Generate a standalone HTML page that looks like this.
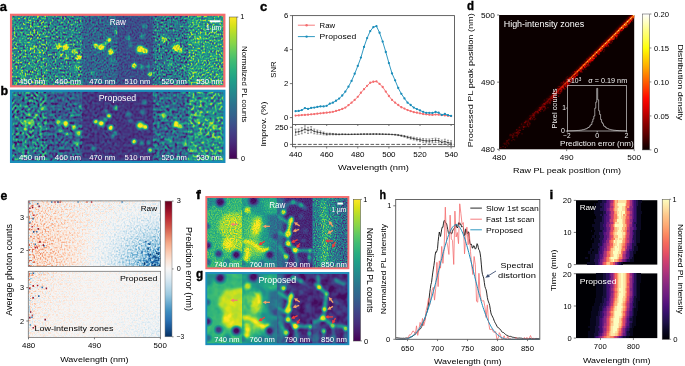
<!DOCTYPE html>
<html><head><meta charset="utf-8"><title>Figure</title>
<style>
html,body{margin:0;padding:0;background:#fff;}
svg{display:block;}
text{font-family:"Liberation Sans",sans-serif;}
</style></head><body>
<svg width="685" height="366" viewBox="0 0 685 366">
<defs>
<radialGradient id="gb"><stop offset="0" stop-color="#ff4000" stop-opacity="1"/><stop offset="0.15" stop-color="#ff4000" stop-opacity="1"/><stop offset="0.3" stop-color="#ff4000" stop-opacity="1"/><stop offset="0.45" stop-color="#ff4000" stop-opacity="0.86"/><stop offset="0.6" stop-color="#ff4000" stop-opacity="0.53"/><stop offset="0.75" stop-color="#ff4000" stop-opacity="0.27"/><stop offset="0.9" stop-color="#ff4000" stop-opacity="0.08"/><stop offset="1" stop-color="#ff4000" stop-opacity="0"/></radialGradient>
<radialGradient id="gbs"><stop offset="0" stop-color="#ff1a00" stop-opacity="1"/><stop offset="0.15" stop-color="#ff1a00" stop-opacity="1"/><stop offset="0.3" stop-color="#ff1a00" stop-opacity="0.98"/><stop offset="0.45" stop-color="#ff1a00" stop-opacity="0.71"/><stop offset="0.6" stop-color="#ff1a00" stop-opacity="0.45"/><stop offset="0.75" stop-color="#ff1a00" stop-opacity="0.22"/><stop offset="0.9" stop-color="#ff1a00" stop-opacity="0.07"/><stop offset="1" stop-color="#ff1a00" stop-opacity="0"/></radialGradient>
<radialGradient id="gd"><stop offset="0" stop-color="#0d0d00" stop-opacity="1"/><stop offset="0.15" stop-color="#0d0d00" stop-opacity="0.94"/><stop offset="0.3" stop-color="#0d0d00" stop-opacity="0.78"/><stop offset="0.45" stop-color="#0d0d00" stop-opacity="0.57"/><stop offset="0.6" stop-color="#0d0d00" stop-opacity="0.36"/><stop offset="0.75" stop-color="#0d0d00" stop-opacity="0.18"/><stop offset="0.9" stop-color="#0d0d00" stop-opacity="0.06"/><stop offset="1" stop-color="#0d0d00" stop-opacity="0"/></radialGradient>
<filter id="fa" filterUnits="userSpaceOnUse" x="11" y="15" width="213" height="71" color-interpolation-filters="sRGB"><feTurbulence type="fractalNoise" baseFrequency="0.56 0.5" numOctaves="1" seed="7" result="t"/><feColorMatrix in="t" type="matrix" values="1.43 1.43 1.43 0 -1.65 1.43 1.43 1.43 0 -1.65 1.43 1.43 1.43 0 -1.65 0 0 0 0 1" result="n"/><feColorMatrix in="SourceGraphic" type="matrix" values="1 0 0 0 0 1 0 0 0 0 1 0 0 0 0 0 0 0 0 1" result="s"/><feColorMatrix in="SourceGraphic" type="matrix" values="0 1 0 0 0 0 1 0 0 0 0 1 0 0 0 0 0 0 0 1" result="m"/><feComposite in="n" in2="m" operator="arithmetic" k1="1.5" k2="0" k3="-0.75" k4="0.5" result="nm"/><feComposite in="s" in2="nm" operator="arithmetic" k1="0" k2="1" k3="1" k4="-0.5" result="v"/><feComponentTransfer in="v"><feFuncR type="table" tableValues="0.267 0.282 0.279 0.259 0.230 0.199 0.173 0.149 0.128 0.121 0.158 0.246 0.369 0.516 0.678 0.846 0.993"/><feFuncG type="table" tableValues="0.005 0.095 0.175 0.252 0.322 0.388 0.449 0.508 0.567 0.626 0.684 0.739 0.789 0.831 0.864 0.887 0.906"/><feFuncB type="table" tableValues="0.329 0.417 0.483 0.525 0.546 0.555 0.558 0.557 0.551 0.533 0.502 0.452 0.383 0.294 0.190 0.100 0.144"/></feComponentTransfer><feGaussianBlur stdDeviation="0.45"/></filter>
<clipPath id="cfa"><rect x="11" y="15" width="213" height="71"/></clipPath>
<clipPath id="cfa0"><rect x="12.1" y="15.9" width="35.18" height="69.3"/></clipPath>
<clipPath id="cfa1"><rect x="47.28" y="15.9" width="35.18" height="69.3"/></clipPath>
<clipPath id="cfa2"><rect x="82.47" y="15.9" width="35.18" height="69.3"/></clipPath>
<clipPath id="cfa3"><rect x="117.65" y="15.9" width="35.18" height="69.3"/></clipPath>
<clipPath id="cfa4"><rect x="152.83" y="15.9" width="35.18" height="69.3"/></clipPath>
<clipPath id="cfa5"><rect x="188.02" y="15.9" width="35.18" height="69.3"/></clipPath>
<filter id="fb" filterUnits="userSpaceOnUse" x="11" y="91" width="213" height="71" color-interpolation-filters="sRGB"><feTurbulence type="fractalNoise" baseFrequency="0.4 0.36" numOctaves="1" seed="12" result="t"/><feColorMatrix in="t" type="matrix" values="1.43 1.43 1.43 0 -1.65 1.43 1.43 1.43 0 -1.65 1.43 1.43 1.43 0 -1.65 0 0 0 0 1" result="n"/><feColorMatrix in="SourceGraphic" type="matrix" values="1 0 0 0 0 1 0 0 0 0 1 0 0 0 0 0 0 0 0 1" result="s"/><feColorMatrix in="SourceGraphic" type="matrix" values="0 1 0 0 0 0 1 0 0 0 0 1 0 0 0 0 0 0 0 1" result="m"/><feComposite in="n" in2="m" operator="arithmetic" k1="1.35" k2="0" k3="-0.68" k4="0.5" result="nm"/><feComposite in="s" in2="nm" operator="arithmetic" k1="0" k2="1" k3="1" k4="-0.5" result="v"/><feComponentTransfer in="v"><feFuncR type="table" tableValues="0.267 0.282 0.279 0.259 0.230 0.199 0.173 0.149 0.128 0.121 0.158 0.246 0.369 0.516 0.678 0.846 0.993"/><feFuncG type="table" tableValues="0.005 0.095 0.175 0.252 0.322 0.388 0.449 0.508 0.567 0.626 0.684 0.739 0.789 0.831 0.864 0.887 0.906"/><feFuncB type="table" tableValues="0.329 0.417 0.483 0.525 0.546 0.555 0.558 0.557 0.551 0.533 0.502 0.452 0.383 0.294 0.190 0.100 0.144"/></feComponentTransfer><feGaussianBlur stdDeviation="0.4"/></filter>
<clipPath id="cfb"><rect x="11" y="91" width="213" height="71"/></clipPath>
<clipPath id="cfb0"><rect x="12.1" y="91.9" width="35.18" height="68.9"/></clipPath>
<clipPath id="cfb1"><rect x="47.28" y="91.9" width="35.18" height="68.9"/></clipPath>
<clipPath id="cfb2"><rect x="82.47" y="91.9" width="35.18" height="68.9"/></clipPath>
<clipPath id="cfb3"><rect x="117.65" y="91.9" width="35.18" height="68.9"/></clipPath>
<clipPath id="cfb4"><rect x="152.83" y="91.9" width="35.18" height="68.9"/></clipPath>
<clipPath id="cfb5"><rect x="188.02" y="91.9" width="35.18" height="68.9"/></clipPath>
<linearGradient id="cba" x1="0" y1="0" x2="0" y2="1"><stop offset="0" stop-color="#fde725"/><stop offset="0.06" stop-color="#d8e219"/><stop offset="0.12" stop-color="#addc30"/><stop offset="0.19" stop-color="#84d44b"/><stop offset="0.25" stop-color="#5ec962"/><stop offset="0.31" stop-color="#3fbc73"/><stop offset="0.38" stop-color="#28ae80"/><stop offset="0.44" stop-color="#1fa088"/><stop offset="0.5" stop-color="#21918c"/><stop offset="0.56" stop-color="#26828e"/><stop offset="0.62" stop-color="#2c728e"/><stop offset="0.69" stop-color="#33638d"/><stop offset="0.75" stop-color="#3b528b"/><stop offset="0.81" stop-color="#424086"/><stop offset="0.88" stop-color="#472d7b"/><stop offset="0.94" stop-color="#48186a"/><stop offset="1" stop-color="#440154"/></linearGradient>
<linearGradient id="dg1" gradientUnits="userSpaceOnUse" x1="499.1" y1="149.3" x2="634.2" y2="15"><stop offset="0" stop-color="#4a0000" stop-opacity="0"/><stop offset="0.15" stop-color="#4a0000" stop-opacity="0.18"/><stop offset="0.45" stop-color="#6a0000" stop-opacity="0.55"/><stop offset="1" stop-color="#900000" stop-opacity="0.9"/></linearGradient>
<linearGradient id="dg2" gradientUnits="userSpaceOnUse" x1="499.1" y1="149.3" x2="634.2" y2="15"><stop offset="0.1" stop-color="#800000" stop-opacity="0"/><stop offset="0.3" stop-color="#900000" stop-opacity="0.3"/><stop offset="0.45" stop-color="#d01000" stop-opacity="0.7"/><stop offset="0.62" stop-color="#f04000"/><stop offset="1" stop-color="#f86800"/></linearGradient>
<linearGradient id="dg3" gradientUnits="userSpaceOnUse" x1="499.1" y1="149.3" x2="634.2" y2="15"><stop offset="0.42" stop-color="#ffd000" stop-opacity="0"/><stop offset="0.6" stop-color="#ffe040" stop-opacity="0.8"/><stop offset="1" stop-color="#ffffa0"/></linearGradient>
<filter id="dblur" x="-10%" y="-10%" width="120%" height="120%"><feGaussianBlur stdDeviation="1.3"/></filter>
<clipPath id="dclip"><rect x="499.1" y="15" width="135.1" height="134.3"/></clipPath>
<linearGradient id="cbd" x1="0" y1="0" x2="0" y2="1"><stop offset="0" stop-color="#ffffff"/><stop offset="0.06" stop-color="#ffffc4"/><stop offset="0.12" stop-color="#ffff85"/><stop offset="0.19" stop-color="#ffff46"/><stop offset="0.25" stop-color="#ffff07"/><stop offset="0.31" stop-color="#ffda00"/><stop offset="0.38" stop-color="#ffb000"/><stop offset="0.44" stop-color="#ff8600"/><stop offset="0.5" stop-color="#ff5c00"/><stop offset="0.56" stop-color="#ff3200"/><stop offset="0.62" stop-color="#ff0800"/><stop offset="0.69" stop-color="#dd0000"/><stop offset="0.75" stop-color="#b30000"/><stop offset="0.81" stop-color="#890000"/><stop offset="0.88" stop-color="#5f0000"/><stop offset="0.94" stop-color="#350000"/><stop offset="1" stop-color="#0b0000"/></linearGradient>
<filter id="fe1" filterUnits="userSpaceOnUse" x="28.3" y="200.9" width="132.3" height="65.5" color-interpolation-filters="sRGB"><feTurbulence type="fractalNoise" baseFrequency="0.62 0.55" numOctaves="1" seed="4" result="t"/><feColorMatrix in="t" type="matrix" values="1.43 1.43 1.43 0 -1.65 1.43 1.43 1.43 0 -1.65 1.43 1.43 1.43 0 -1.65 0 0 0 0 1" result="n"/><feColorMatrix in="SourceGraphic" type="matrix" values="1 0 0 0 0 1 0 0 0 0 1 0 0 0 0 0 0 0 0 1" result="s"/><feColorMatrix in="SourceGraphic" type="matrix" values="0 1 0 0 0 0 1 0 0 0 0 1 0 0 0 0 0 0 0 1" result="m"/><feComposite in="n" in2="m" operator="arithmetic" k1="1.15" k2="0" k3="-0.57" k4="0.5" result="nm"/><feComposite in="s" in2="nm" operator="arithmetic" k1="0" k2="1" k3="1" k4="-0.5" result="v"/><feComponentTransfer in="v"><feFuncR type="table" tableValues="0.020 0.071 0.127 0.195 0.263 0.421 0.566 0.694 0.820 0.896 0.969 0.980 0.992 0.974 0.955 0.895 0.839 0.767 0.692 0.542 0.404"/><feFuncG type="table" tableValues="0.188 0.288 0.396 0.487 0.576 0.676 0.769 0.834 0.898 0.934 0.966 0.915 0.859 0.751 0.642 0.504 0.376 0.233 0.092 0.044 0.000"/><feFuncB type="table" tableValues="0.380 0.519 0.669 0.719 0.765 0.819 0.869 0.905 0.941 0.955 0.965 0.876 0.780 0.642 0.506 0.400 0.302 0.234 0.168 0.144 0.122"/></feComponentTransfer><feGaussianBlur stdDeviation="0.4"/></filter>
<filter id="fe2" filterUnits="userSpaceOnUse" x="28.3" y="271.3" width="132.3" height="66.2" color-interpolation-filters="sRGB"><feTurbulence type="fractalNoise" baseFrequency="0.62 0.55" numOctaves="1" seed="9" result="t"/><feColorMatrix in="t" type="matrix" values="1.43 1.43 1.43 0 -1.65 1.43 1.43 1.43 0 -1.65 1.43 1.43 1.43 0 -1.65 0 0 0 0 1" result="n"/><feColorMatrix in="SourceGraphic" type="matrix" values="1 0 0 0 0 1 0 0 0 0 1 0 0 0 0 0 0 0 0 1" result="s"/><feColorMatrix in="SourceGraphic" type="matrix" values="0 1 0 0 0 0 1 0 0 0 0 1 0 0 0 0 0 0 0 1" result="m"/><feComposite in="n" in2="m" operator="arithmetic" k1="1.15" k2="0" k3="-0.57" k4="0.5" result="nm"/><feComposite in="s" in2="nm" operator="arithmetic" k1="0" k2="1" k3="1" k4="-0.5" result="v"/><feComponentTransfer in="v"><feFuncR type="table" tableValues="0.020 0.071 0.127 0.195 0.263 0.421 0.566 0.694 0.820 0.896 0.969 0.980 0.992 0.974 0.955 0.895 0.839 0.767 0.692 0.542 0.404"/><feFuncG type="table" tableValues="0.188 0.288 0.396 0.487 0.576 0.676 0.769 0.834 0.898 0.934 0.966 0.915 0.859 0.751 0.642 0.504 0.376 0.233 0.092 0.044 0.000"/><feFuncB type="table" tableValues="0.380 0.519 0.669 0.719 0.765 0.819 0.869 0.905 0.941 0.955 0.965 0.876 0.780 0.642 0.506 0.400 0.302 0.234 0.168 0.144 0.122"/></feComponentTransfer><feGaussianBlur stdDeviation="0.4"/></filter>
<linearGradient id="eg1" x1="0" y1="0" x2="1" y2="0"><stop offset="0" stop-color="#916b00"/><stop offset="0.08" stop-color="#993d00"/><stop offset="0.3" stop-color="#902900"/><stop offset="0.5" stop-color="#811f00"/><stop offset="1" stop-color="#7c1a00"/></linearGradient>
<radialGradient id="eg2" cx="1" cy="1" r="1" gradientTransform="translate(1 1) scale(0.62 1.15) translate(-1 -1)"><stop offset="0" stop-color="#2e5400"/><stop offset="0.12" stop-color="#3d4500"/><stop offset="0.3" stop-color="#523300"/><stop offset="0.55" stop-color="#662400" stop-opacity="0.85"/><stop offset="0.8" stop-color="#731c00" stop-opacity="0.5"/><stop offset="1" stop-color="#781a00" stop-opacity="0"/></radialGradient>
<linearGradient id="eg3" x1="0" y1="0" x2="0" y2="1"><stop offset="0" stop-color="#803300" stop-opacity="0.55"/><stop offset="0.6" stop-color="#803300" stop-opacity="0"/></linearGradient>
<linearGradient id="eg4" x1="0" y1="0" x2="1" y2="0"><stop offset="0" stop-color="#857300"/><stop offset="0.06" stop-color="#874000"/><stop offset="0.2" stop-color="#852400"/><stop offset="0.45" stop-color="#811400"/><stop offset="1" stop-color="#7d1200"/></linearGradient>
<radialGradient id="eg5" cx="1" cy="1" r="1" gradientTransform="translate(1 1) scale(0.5 0.8) translate(-1 -1)"><stop offset="0" stop-color="#702400" stop-opacity="0.9"/><stop offset="1" stop-color="#7a1a00" stop-opacity="0"/></radialGradient>
<linearGradient id="eg6" x1="0" y1="0" x2="0" y2="1"><stop offset="0" stop-color="#801200" stop-opacity="0"/><stop offset="1" stop-color="#801200" stop-opacity="0.7"/></linearGradient>
<linearGradient id="cbe" x1="0" y1="0" x2="0" y2="1"><stop offset="0" stop-color="#67001f"/><stop offset="0.06" stop-color="#930e26"/><stop offset="0.12" stop-color="#ba2832"/><stop offset="0.19" stop-color="#d05548"/><stop offset="0.25" stop-color="#e48066"/><stop offset="0.31" stop-color="#f5aa89"/><stop offset="0.38" stop-color="#fbccb4"/><stop offset="0.44" stop-color="#fbe5d8"/><stop offset="0.5" stop-color="#f7f6f6"/><stop offset="0.56" stop-color="#e0ecf3"/><stop offset="0.62" stop-color="#c2ddec"/><stop offset="0.69" stop-color="#9bc9e0"/><stop offset="0.75" stop-color="#6bacd1"/><stop offset="0.81" stop-color="#3f8ec0"/><stop offset="0.88" stop-color="#2a71b2"/><stop offset="0.94" stop-color="#175290"/><stop offset="1" stop-color="#053061"/></linearGradient>
<linearGradient id="cbi" x1="0" y1="0" x2="0" y2="1"><stop offset="0" stop-color="#fcfdbf"/><stop offset="0.06" stop-color="#fde2a3"/><stop offset="0.12" stop-color="#fec488"/><stop offset="0.19" stop-color="#fea772"/><stop offset="0.25" stop-color="#fc8961"/><stop offset="0.31" stop-color="#f56b5c"/><stop offset="0.38" stop-color="#e75263"/><stop offset="0.44" stop-color="#d0416f"/><stop offset="0.5" stop-color="#b73779"/><stop offset="0.56" stop-color="#9c2e7f"/><stop offset="0.62" stop-color="#832681"/><stop offset="0.69" stop-color="#6a1c81"/><stop offset="0.75" stop-color="#51127c"/><stop offset="0.81" stop-color="#36106b"/><stop offset="0.88" stop-color="#1d1147"/><stop offset="0.94" stop-color="#0a0822"/><stop offset="1" stop-color="#000004"/></linearGradient>
<filter id="bl1" x="-30%" y="-30%" width="160%" height="160%"><feGaussianBlur stdDeviation="1.15"/></filter>
<filter id="bl2" x="-30%" y="-30%" width="160%" height="160%"><feGaussianBlur stdDeviation="1.6"/></filter>
<filter id="bl3" x="-30%" y="-30%" width="160%" height="160%"><feGaussianBlur stdDeviation="2.6"/></filter>
<filter id="ff" filterUnits="userSpaceOnUse" x="206" y="198" width="143" height="71" color-interpolation-filters="sRGB"><feTurbulence type="fractalNoise" baseFrequency="0.85 0.78" numOctaves="2" seed="21" result="t"/><feColorMatrix in="t" type="matrix" values="1.43 1.43 1.43 0 -1.65 1.43 1.43 1.43 0 -1.65 1.43 1.43 1.43 0 -1.65 0 0 0 0 1" result="n"/><feColorMatrix in="SourceGraphic" type="matrix" values="1 0 0 0 0 1 0 0 0 0 1 0 0 0 0 0 0 0 0 1" result="s"/><feColorMatrix in="SourceGraphic" type="matrix" values="0 1 0 0 0 0 1 0 0 0 0 1 0 0 0 0 0 0 0 1" result="m"/><feComposite in="n" in2="m" operator="arithmetic" k1="1.5" k2="0" k3="-0.75" k4="0.5" result="nm"/><feComposite in="s" in2="nm" operator="arithmetic" k1="0" k2="1" k3="1" k4="-0.5" result="v"/><feComponentTransfer in="v"><feFuncR type="table" tableValues="0.267 0.282 0.279 0.259 0.230 0.199 0.173 0.149 0.128 0.121 0.158 0.246 0.369 0.516 0.678 0.846 0.993"/><feFuncG type="table" tableValues="0.005 0.095 0.175 0.252 0.322 0.388 0.449 0.508 0.567 0.626 0.684 0.739 0.789 0.831 0.864 0.887 0.906"/><feFuncB type="table" tableValues="0.329 0.417 0.483 0.525 0.546 0.555 0.558 0.557 0.551 0.533 0.502 0.452 0.383 0.294 0.190 0.100 0.144"/></feComponentTransfer><feGaussianBlur stdDeviation="0.5"/></filter>
<clipPath id="cff"><rect x="206" y="198" width="143" height="71"/></clipPath>
<radialGradient id="gb0"><stop offset="0" stop-color="#ff2500" stop-opacity="1"/><stop offset="0.15" stop-color="#ff2500" stop-opacity="1"/><stop offset="0.3" stop-color="#ff2500" stop-opacity="1"/><stop offset="0.45" stop-color="#ff2500" stop-opacity="0.77"/><stop offset="0.6" stop-color="#ff2500" stop-opacity="0.48"/><stop offset="0.75" stop-color="#ff2500" stop-opacity="0.24"/><stop offset="0.9" stop-color="#ff2500" stop-opacity="0.07"/><stop offset="1" stop-color="#ff2500" stop-opacity="0"/></radialGradient>
<radialGradient id="gd0"><stop offset="0" stop-color="#0a0a00" stop-opacity="1"/><stop offset="0.15" stop-color="#0a0a00" stop-opacity="1"/><stop offset="0.3" stop-color="#0a0a00" stop-opacity="1"/><stop offset="0.45" stop-color="#0a0a00" stop-opacity="0.8"/><stop offset="0.6" stop-color="#0a0a00" stop-opacity="0.5"/><stop offset="0.75" stop-color="#0a0a00" stop-opacity="0.25"/><stop offset="0.9" stop-color="#0a0a00" stop-opacity="0.08"/><stop offset="1" stop-color="#0a0a00" stop-opacity="0"/></radialGradient>
<radialGradient id="gt0"><stop offset="0" stop-color="#801400" stop-opacity="1"/><stop offset="0.15" stop-color="#801400" stop-opacity="1"/><stop offset="0.3" stop-color="#801400" stop-opacity="0.94"/><stop offset="0.45" stop-color="#801400" stop-opacity="0.68"/><stop offset="0.6" stop-color="#801400" stop-opacity="0.43"/><stop offset="0.75" stop-color="#801400" stop-opacity="0.22"/><stop offset="0.9" stop-color="#801400" stop-opacity="0.07"/><stop offset="1" stop-color="#801400" stop-opacity="0"/></radialGradient>
<clipPath id="cff0"><rect x="205.8" y="198" width="36.58" height="71"/></clipPath>
<clipPath id="cff1"><rect x="242.38" y="198" width="35.08" height="71"/></clipPath>
<clipPath id="cff2"><rect x="277.45" y="198" width="35.08" height="71"/></clipPath>
<clipPath id="cff3"><rect x="312.53" y="198" width="36.58" height="71"/></clipPath>
<filter id="fg" filterUnits="userSpaceOnUse" x="206" y="274" width="143" height="71" color-interpolation-filters="sRGB"><feTurbulence type="fractalNoise" baseFrequency="0.15 0.14" numOctaves="2" seed="5" result="t"/><feColorMatrix in="t" type="matrix" values="1.43 1.43 1.43 0 -1.65 1.43 1.43 1.43 0 -1.65 1.43 1.43 1.43 0 -1.65 0 0 0 0 1" result="n"/><feColorMatrix in="SourceGraphic" type="matrix" values="1 0 0 0 0 1 0 0 0 0 1 0 0 0 0 0 0 0 0 1" result="s"/><feColorMatrix in="SourceGraphic" type="matrix" values="0 1 0 0 0 0 1 0 0 0 0 1 0 0 0 0 0 0 0 1" result="m"/><feComposite in="n" in2="m" operator="arithmetic" k1="1.3" k2="0" k3="-0.65" k4="0.5" result="nm"/><feComposite in="s" in2="nm" operator="arithmetic" k1="0" k2="1" k3="1" k4="-0.5" result="v"/><feComponentTransfer in="v"><feFuncR type="table" tableValues="0.267 0.282 0.279 0.259 0.230 0.199 0.173 0.149 0.128 0.121 0.158 0.246 0.369 0.516 0.678 0.846 0.993"/><feFuncG type="table" tableValues="0.005 0.095 0.175 0.252 0.322 0.388 0.449 0.508 0.567 0.626 0.684 0.739 0.789 0.831 0.864 0.887 0.906"/><feFuncB type="table" tableValues="0.329 0.417 0.483 0.525 0.546 0.555 0.558 0.557 0.551 0.533 0.502 0.452 0.383 0.294 0.190 0.100 0.144"/></feComponentTransfer></filter>
<clipPath id="cfg"><rect x="206" y="274" width="143" height="71"/></clipPath>
<radialGradient id="gb1"><stop offset="0" stop-color="#ff1c00" stop-opacity="1"/><stop offset="0.15" stop-color="#ff1c00" stop-opacity="1"/><stop offset="0.3" stop-color="#ff1c00" stop-opacity="1"/><stop offset="0.45" stop-color="#ff1c00" stop-opacity="0.77"/><stop offset="0.6" stop-color="#ff1c00" stop-opacity="0.48"/><stop offset="0.75" stop-color="#ff1c00" stop-opacity="0.24"/><stop offset="0.9" stop-color="#ff1c00" stop-opacity="0.07"/><stop offset="1" stop-color="#ff1c00" stop-opacity="0"/></radialGradient>
<radialGradient id="gd1"><stop offset="0" stop-color="#0a0a00" stop-opacity="1"/><stop offset="0.15" stop-color="#0a0a00" stop-opacity="1"/><stop offset="0.3" stop-color="#0a0a00" stop-opacity="1"/><stop offset="0.45" stop-color="#0a0a00" stop-opacity="0.8"/><stop offset="0.6" stop-color="#0a0a00" stop-opacity="0.5"/><stop offset="0.75" stop-color="#0a0a00" stop-opacity="0.25"/><stop offset="0.9" stop-color="#0a0a00" stop-opacity="0.08"/><stop offset="1" stop-color="#0a0a00" stop-opacity="0"/></radialGradient>
<radialGradient id="gt1"><stop offset="0" stop-color="#802100" stop-opacity="1"/><stop offset="0.15" stop-color="#802100" stop-opacity="1"/><stop offset="0.3" stop-color="#802100" stop-opacity="0.94"/><stop offset="0.45" stop-color="#802100" stop-opacity="0.68"/><stop offset="0.6" stop-color="#802100" stop-opacity="0.43"/><stop offset="0.75" stop-color="#802100" stop-opacity="0.22"/><stop offset="0.9" stop-color="#802100" stop-opacity="0.07"/><stop offset="1" stop-color="#802100" stop-opacity="0"/></radialGradient>
<clipPath id="cfg0"><rect x="205.8" y="274" width="36.58" height="71"/></clipPath>
<clipPath id="cfg1"><rect x="242.38" y="274" width="35.08" height="71"/></clipPath>
<clipPath id="cfg2"><rect x="277.45" y="274" width="35.08" height="71"/></clipPath>
<clipPath id="cfg3"><rect x="312.53" y="274" width="36.58" height="71"/></clipPath>
<linearGradient id="cbf" x1="0" y1="0" x2="0" y2="1"><stop offset="0" stop-color="#fde725"/><stop offset="0.06" stop-color="#d8e219"/><stop offset="0.12" stop-color="#addc30"/><stop offset="0.19" stop-color="#84d44b"/><stop offset="0.25" stop-color="#5ec962"/><stop offset="0.31" stop-color="#3fbc73"/><stop offset="0.38" stop-color="#28ae80"/><stop offset="0.44" stop-color="#1fa088"/><stop offset="0.5" stop-color="#21918c"/><stop offset="0.56" stop-color="#26828e"/><stop offset="0.62" stop-color="#2c728e"/><stop offset="0.69" stop-color="#33638d"/><stop offset="0.75" stop-color="#3b528b"/><stop offset="0.81" stop-color="#424086"/><stop offset="0.88" stop-color="#472d7b"/><stop offset="0.94" stop-color="#48186a"/><stop offset="1" stop-color="#440154"/></linearGradient>
</defs>
<rect x="0" y="0" width="685" height="366" fill="#fff"/>
<g><path d="M295.6 129.15V135.3M294.6 129.15h2M294.6 135.3h2M298.71 129.01V134.48M297.71 129.01h2M297.71 134.48h2M301.82 127.64V133.8M300.82 127.64h2M300.82 133.8h2M304.93 125.8V132.64M303.93 125.8h2M303.93 132.64h2M308.04 127.3V133.46M307.04 127.3h2M307.04 133.46h2M311.15 126.62V132.77M310.15 126.62h2M310.15 132.77h2M314.26 129.01V133.8M313.26 129.01h2M313.26 133.8h2M317.37 130.04V134.14M316.37 130.04h2M316.37 134.14h2M320.48 130.93V134.35M319.48 130.93h2M319.48 134.35h2M323.59 132.09V134.82M322.59 132.09h2M322.59 134.82h2M326.7 133.11V135.17M325.7 133.11h2M325.7 135.17h2M329.81 133.18V134.82M328.81 133.18h2M328.81 134.82h2M332.92 133.46V134.82M331.92 133.46h2M331.92 134.82h2M336.03 133.73V134.82M335.03 133.73h2M335.03 134.82h2M339.14 134V134.82M338.14 134h2M338.14 134.82h2M342.25 133.93V134.62M341.25 133.93h2M341.25 134.62h2M345.36 134.07V134.62M344.36 134.07h2M344.36 134.62h2M348.47 134.21V134.62M347.47 134.21h2M347.47 134.62h2M351.58 134.14V134.55M350.58 134.14h2M350.58 134.55h2M354.69 134.07V134.48M353.69 134.07h2M353.69 134.48h2M357.8 134.07V134.48M356.8 134.07h2M356.8 134.48h2M360.91 134V134.41M359.91 134h2M359.91 134.41h2M364.02 133.93V134.35M363.02 133.93h2M363.02 134.35h2M367.13 133.93V134.35M366.13 133.93h2M366.13 134.35h2M370.24 133.93V134.35M369.24 133.93h2M369.24 134.35h2M373.35 133.87V134.28M372.35 133.87h2M372.35 134.28h2M376.46 133.87V134.28M375.46 133.87h2M375.46 134.28h2M379.57 133.93V134.35M378.57 133.93h2M378.57 134.35h2M382.68 134V134.41M381.68 134h2M381.68 134.41h2M385.79 134.07V134.48M384.79 134.07h2M384.79 134.48h2M388.9 134.07V134.62M387.9 134.07h2M387.9 134.62h2M392.01 134.14V134.82M391.01 134.14h2M391.01 134.82h2M395.12 134.28V135.1M394.12 134.28h2M394.12 135.1h2M398.23 134.55V135.64M397.23 134.55h2M397.23 135.64h2M401.34 134.96V136.33M400.34 134.96h2M400.34 136.33h2M404.45 135.51V137.15M403.45 135.51h2M403.45 137.15h2M407.56 136.19V138.24M406.56 136.19h2M406.56 138.24h2M410.67 136.67V139.13M409.67 136.67h2M409.67 139.13h2M413.78 137.22V139.95M412.78 137.22h2M412.78 139.95h2M416.89 137.77V140.77M415.89 137.77h2M415.89 140.77h2M420 138.18V141.6M419 138.18h2M419 141.6h2M423.11 138.52V142.35M422.11 138.52h2M422.11 142.35h2M426.22 138.79V142.9M425.22 138.79h2M425.22 142.9h2M429.33 138.93V143.03M428.33 138.93h2M428.33 143.03h2M432.44 138.45V142.83M431.44 138.45h2M431.44 142.83h2M435.55 138.11V142.48M434.55 138.11h2M434.55 142.48h2M438.66 138.45V142.83M437.66 138.45h2M437.66 142.83h2M441.77 140.02V144.67M440.77 140.02h2M440.77 144.67h2M444.88 139.2V143.85M443.88 139.2h2M443.88 143.85h2M447.99 140.23V145.15M446.99 140.23h2M446.99 145.15h2M451.1 140.71V145.63M450.1 140.71h2M450.1 145.63h2" stroke="#444" stroke-width="0.5" fill="none"/>
<polyline points="295.6,132.22 298.71,131.75 301.82,130.72 304.93,129.22 308.04,130.38 311.15,129.69 314.26,131.4 317.37,132.09 320.48,132.64 323.59,133.46 326.7,134.14 329.81,134 332.92,134.14 336.03,134.28 339.14,134.41 342.25,134.28 345.36,134.35 348.47,134.41 351.58,134.35 354.69,134.28 357.8,134.28 360.91,134.21 364.02,134.14 367.13,134.14 370.24,134.14 373.35,134.07 376.46,134.07 379.57,134.14 382.68,134.21 385.79,134.28 388.9,134.35 392.01,134.48 395.12,134.69 398.23,135.1 401.34,135.64 404.45,136.33 407.56,137.22 410.67,137.9 413.78,138.59 416.89,139.27 420,139.89 423.11,140.43 426.22,140.84 429.33,140.98 432.44,140.64 435.55,140.3 438.66,140.64 441.77,142.35 444.88,141.53 447.99,142.69 451.1,143.17" fill="none" stroke="#333" stroke-width="0.7" stroke-linejoin="round"/>
<path d="M295 131.62h1.2v1.2h-1.2zM298.11 131.15h1.2v1.2h-1.2zM301.22 130.12h1.2v1.2h-1.2zM304.33 128.62h1.2v1.2h-1.2zM307.44 129.78h1.2v1.2h-1.2zM310.55 129.09h1.2v1.2h-1.2zM313.66 130.8h1.2v1.2h-1.2zM316.77 131.49h1.2v1.2h-1.2zM319.88 132.04h1.2v1.2h-1.2zM322.99 132.86h1.2v1.2h-1.2zM326.1 133.54h1.2v1.2h-1.2zM329.21 133.4h1.2v1.2h-1.2zM332.32 133.54h1.2v1.2h-1.2zM335.43 133.68h1.2v1.2h-1.2zM338.54 133.81h1.2v1.2h-1.2zM341.65 133.68h1.2v1.2h-1.2zM344.76 133.75h1.2v1.2h-1.2zM347.87 133.81h1.2v1.2h-1.2zM350.98 133.75h1.2v1.2h-1.2zM354.09 133.68h1.2v1.2h-1.2zM357.2 133.68h1.2v1.2h-1.2zM360.31 133.61h1.2v1.2h-1.2zM363.42 133.54h1.2v1.2h-1.2zM366.53 133.54h1.2v1.2h-1.2zM369.64 133.54h1.2v1.2h-1.2zM372.75 133.47h1.2v1.2h-1.2zM375.86 133.47h1.2v1.2h-1.2zM378.97 133.54h1.2v1.2h-1.2zM382.08 133.61h1.2v1.2h-1.2zM385.19 133.68h1.2v1.2h-1.2zM388.3 133.75h1.2v1.2h-1.2zM391.41 133.88h1.2v1.2h-1.2zM394.52 134.09h1.2v1.2h-1.2zM397.63 134.5h1.2v1.2h-1.2zM400.74 135.04h1.2v1.2h-1.2zM403.85 135.73h1.2v1.2h-1.2zM406.96 136.62h1.2v1.2h-1.2zM410.07 137.3h1.2v1.2h-1.2zM413.18 137.99h1.2v1.2h-1.2zM416.29 138.67h1.2v1.2h-1.2zM419.4 139.29h1.2v1.2h-1.2zM422.51 139.83h1.2v1.2h-1.2zM425.62 140.24h1.2v1.2h-1.2zM428.73 140.38h1.2v1.2h-1.2zM431.84 140.04h1.2v1.2h-1.2zM434.95 139.7h1.2v1.2h-1.2zM438.06 140.04h1.2v1.2h-1.2zM441.17 141.75h1.2v1.2h-1.2zM444.28 140.93h1.2v1.2h-1.2zM447.39 142.09h1.2v1.2h-1.2zM450.5 142.57h1.2v1.2h-1.2z" fill="#333"/>
<line x1="292.5" y1="144.4" x2="454.5" y2="144.4" stroke="#333" stroke-width="0.8" stroke-dasharray="3.6 1.6"/>
<polyline points="295.6,115.56 298.71,115.39 301.82,115.05 304.93,114.88 308.04,114.71 311.15,114.37 314.26,114.03 317.37,113.69 320.48,113.35 323.59,113.01 326.7,112.67 329.81,112.33 332.92,111.82 336.03,110.97 339.14,110.12 342.25,108.93 345.36,107.57 348.47,105.19 351.58,102.64 354.69,99.92 357.8,96.86 360.91,92.78 364.02,89.21 367.13,85.81 370.24,82.75 373.35,81.73 376.46,81.39 379.57,83.94 382.68,87 385.79,91.59 388.9,96.01 392.01,99.92 395.12,102.64 398.23,105.02 401.34,107.23 404.45,108.59 407.56,110.12 410.67,111.14 413.78,112.16 416.89,112.67 420,113.35 423.11,114.03 426.22,114.37 429.33,114.71 432.44,114.88 435.55,114.54 438.66,114.71 441.77,115.05 444.88,115.39 447.99,115.73 451.1,116.07" fill="none" stroke="#f46d6f" stroke-width="0.9" stroke-linejoin="round"/>
<path d="M295.6 115.56m-1.15 0a1.15 1.15 0 1 0 2.3 0a1.15 1.15 0 1 0 -2.3 0zM298.71 115.39m-1.15 0a1.15 1.15 0 1 0 2.3 0a1.15 1.15 0 1 0 -2.3 0zM301.82 115.05m-1.15 0a1.15 1.15 0 1 0 2.3 0a1.15 1.15 0 1 0 -2.3 0zM304.93 114.88m-1.15 0a1.15 1.15 0 1 0 2.3 0a1.15 1.15 0 1 0 -2.3 0zM308.04 114.71m-1.15 0a1.15 1.15 0 1 0 2.3 0a1.15 1.15 0 1 0 -2.3 0zM311.15 114.37m-1.15 0a1.15 1.15 0 1 0 2.3 0a1.15 1.15 0 1 0 -2.3 0zM314.26 114.03m-1.15 0a1.15 1.15 0 1 0 2.3 0a1.15 1.15 0 1 0 -2.3 0zM317.37 113.69m-1.15 0a1.15 1.15 0 1 0 2.3 0a1.15 1.15 0 1 0 -2.3 0zM320.48 113.35m-1.15 0a1.15 1.15 0 1 0 2.3 0a1.15 1.15 0 1 0 -2.3 0zM323.59 113.01m-1.15 0a1.15 1.15 0 1 0 2.3 0a1.15 1.15 0 1 0 -2.3 0zM326.7 112.67m-1.15 0a1.15 1.15 0 1 0 2.3 0a1.15 1.15 0 1 0 -2.3 0zM329.81 112.33m-1.15 0a1.15 1.15 0 1 0 2.3 0a1.15 1.15 0 1 0 -2.3 0zM332.92 111.82m-1.15 0a1.15 1.15 0 1 0 2.3 0a1.15 1.15 0 1 0 -2.3 0zM336.03 110.97m-1.15 0a1.15 1.15 0 1 0 2.3 0a1.15 1.15 0 1 0 -2.3 0zM339.14 110.12m-1.15 0a1.15 1.15 0 1 0 2.3 0a1.15 1.15 0 1 0 -2.3 0zM342.25 108.93m-1.15 0a1.15 1.15 0 1 0 2.3 0a1.15 1.15 0 1 0 -2.3 0zM345.36 107.57m-1.15 0a1.15 1.15 0 1 0 2.3 0a1.15 1.15 0 1 0 -2.3 0zM348.47 105.19m-1.15 0a1.15 1.15 0 1 0 2.3 0a1.15 1.15 0 1 0 -2.3 0zM351.58 102.64m-1.15 0a1.15 1.15 0 1 0 2.3 0a1.15 1.15 0 1 0 -2.3 0zM354.69 99.92m-1.15 0a1.15 1.15 0 1 0 2.3 0a1.15 1.15 0 1 0 -2.3 0zM357.8 96.86m-1.15 0a1.15 1.15 0 1 0 2.3 0a1.15 1.15 0 1 0 -2.3 0zM360.91 92.78m-1.15 0a1.15 1.15 0 1 0 2.3 0a1.15 1.15 0 1 0 -2.3 0zM364.02 89.21m-1.15 0a1.15 1.15 0 1 0 2.3 0a1.15 1.15 0 1 0 -2.3 0zM367.13 85.81m-1.15 0a1.15 1.15 0 1 0 2.3 0a1.15 1.15 0 1 0 -2.3 0zM370.24 82.75m-1.15 0a1.15 1.15 0 1 0 2.3 0a1.15 1.15 0 1 0 -2.3 0zM373.35 81.73m-1.15 0a1.15 1.15 0 1 0 2.3 0a1.15 1.15 0 1 0 -2.3 0zM376.46 81.39m-1.15 0a1.15 1.15 0 1 0 2.3 0a1.15 1.15 0 1 0 -2.3 0zM379.57 83.94m-1.15 0a1.15 1.15 0 1 0 2.3 0a1.15 1.15 0 1 0 -2.3 0zM382.68 87m-1.15 0a1.15 1.15 0 1 0 2.3 0a1.15 1.15 0 1 0 -2.3 0zM385.79 91.59m-1.15 0a1.15 1.15 0 1 0 2.3 0a1.15 1.15 0 1 0 -2.3 0zM388.9 96.01m-1.15 0a1.15 1.15 0 1 0 2.3 0a1.15 1.15 0 1 0 -2.3 0zM392.01 99.92m-1.15 0a1.15 1.15 0 1 0 2.3 0a1.15 1.15 0 1 0 -2.3 0zM395.12 102.64m-1.15 0a1.15 1.15 0 1 0 2.3 0a1.15 1.15 0 1 0 -2.3 0zM398.23 105.02m-1.15 0a1.15 1.15 0 1 0 2.3 0a1.15 1.15 0 1 0 -2.3 0zM401.34 107.23m-1.15 0a1.15 1.15 0 1 0 2.3 0a1.15 1.15 0 1 0 -2.3 0zM404.45 108.59m-1.15 0a1.15 1.15 0 1 0 2.3 0a1.15 1.15 0 1 0 -2.3 0zM407.56 110.12m-1.15 0a1.15 1.15 0 1 0 2.3 0a1.15 1.15 0 1 0 -2.3 0zM410.67 111.14m-1.15 0a1.15 1.15 0 1 0 2.3 0a1.15 1.15 0 1 0 -2.3 0zM413.78 112.16m-1.15 0a1.15 1.15 0 1 0 2.3 0a1.15 1.15 0 1 0 -2.3 0zM416.89 112.67m-1.15 0a1.15 1.15 0 1 0 2.3 0a1.15 1.15 0 1 0 -2.3 0zM420 113.35m-1.15 0a1.15 1.15 0 1 0 2.3 0a1.15 1.15 0 1 0 -2.3 0zM423.11 114.03m-1.15 0a1.15 1.15 0 1 0 2.3 0a1.15 1.15 0 1 0 -2.3 0zM426.22 114.37m-1.15 0a1.15 1.15 0 1 0 2.3 0a1.15 1.15 0 1 0 -2.3 0zM429.33 114.71m-1.15 0a1.15 1.15 0 1 0 2.3 0a1.15 1.15 0 1 0 -2.3 0zM432.44 114.88m-1.15 0a1.15 1.15 0 1 0 2.3 0a1.15 1.15 0 1 0 -2.3 0zM435.55 114.54m-1.15 0a1.15 1.15 0 1 0 2.3 0a1.15 1.15 0 1 0 -2.3 0zM438.66 114.71m-1.15 0a1.15 1.15 0 1 0 2.3 0a1.15 1.15 0 1 0 -2.3 0zM441.77 115.05m-1.15 0a1.15 1.15 0 1 0 2.3 0a1.15 1.15 0 1 0 -2.3 0zM444.88 115.39m-1.15 0a1.15 1.15 0 1 0 2.3 0a1.15 1.15 0 1 0 -2.3 0zM447.99 115.73m-1.15 0a1.15 1.15 0 1 0 2.3 0a1.15 1.15 0 1 0 -2.3 0zM451.1 116.07m-1.15 0a1.15 1.15 0 1 0 2.3 0a1.15 1.15 0 1 0 -2.3 0z" fill="#f46d6f"/>
<polyline points="295.6,111.14 298.71,110.97 301.82,110.12 304.93,108.08 308.04,108.93 311.15,107.91 314.26,107.57 317.37,106.89 320.48,106.38 323.59,106.38 326.7,105.87 329.81,103.66 332.92,102.64 336.03,100.77 339.14,98.56 342.25,95.5 345.36,91.59 348.47,86.66 351.58,80.88 354.69,73.74 357.8,65.92 360.91,57.59 364.02,46.88 367.13,38.04 370.24,31.07 373.35,27.16 376.46,26.14 379.57,32.77 382.68,41.61 385.79,51.98 388.9,63.03 392.01,73.4 395.12,80.37 398.23,88.02 401.34,93.8 404.45,98.39 407.56,102.64 410.67,105.02 413.78,107.57 416.89,109.1 420,110.46 423.11,111.82 426.22,112.84 429.33,112.84 432.44,113.01 435.55,111.99 438.66,112.67 441.77,114.88 444.88,114.03 447.99,115.22 451.1,115.9" fill="none" stroke="#1a8dba" stroke-width="0.9" stroke-linejoin="round"/>
<path d="M295.6 111.14m-1.15 0a1.15 1.15 0 1 0 2.3 0a1.15 1.15 0 1 0 -2.3 0zM298.71 110.97m-1.15 0a1.15 1.15 0 1 0 2.3 0a1.15 1.15 0 1 0 -2.3 0zM301.82 110.12m-1.15 0a1.15 1.15 0 1 0 2.3 0a1.15 1.15 0 1 0 -2.3 0zM304.93 108.08m-1.15 0a1.15 1.15 0 1 0 2.3 0a1.15 1.15 0 1 0 -2.3 0zM308.04 108.93m-1.15 0a1.15 1.15 0 1 0 2.3 0a1.15 1.15 0 1 0 -2.3 0zM311.15 107.91m-1.15 0a1.15 1.15 0 1 0 2.3 0a1.15 1.15 0 1 0 -2.3 0zM314.26 107.57m-1.15 0a1.15 1.15 0 1 0 2.3 0a1.15 1.15 0 1 0 -2.3 0zM317.37 106.89m-1.15 0a1.15 1.15 0 1 0 2.3 0a1.15 1.15 0 1 0 -2.3 0zM320.48 106.38m-1.15 0a1.15 1.15 0 1 0 2.3 0a1.15 1.15 0 1 0 -2.3 0zM323.59 106.38m-1.15 0a1.15 1.15 0 1 0 2.3 0a1.15 1.15 0 1 0 -2.3 0zM326.7 105.87m-1.15 0a1.15 1.15 0 1 0 2.3 0a1.15 1.15 0 1 0 -2.3 0zM329.81 103.66m-1.15 0a1.15 1.15 0 1 0 2.3 0a1.15 1.15 0 1 0 -2.3 0zM332.92 102.64m-1.15 0a1.15 1.15 0 1 0 2.3 0a1.15 1.15 0 1 0 -2.3 0zM336.03 100.77m-1.15 0a1.15 1.15 0 1 0 2.3 0a1.15 1.15 0 1 0 -2.3 0zM339.14 98.56m-1.15 0a1.15 1.15 0 1 0 2.3 0a1.15 1.15 0 1 0 -2.3 0zM342.25 95.5m-1.15 0a1.15 1.15 0 1 0 2.3 0a1.15 1.15 0 1 0 -2.3 0zM345.36 91.59m-1.15 0a1.15 1.15 0 1 0 2.3 0a1.15 1.15 0 1 0 -2.3 0zM348.47 86.66m-1.15 0a1.15 1.15 0 1 0 2.3 0a1.15 1.15 0 1 0 -2.3 0zM351.58 80.88m-1.15 0a1.15 1.15 0 1 0 2.3 0a1.15 1.15 0 1 0 -2.3 0zM354.69 73.74m-1.15 0a1.15 1.15 0 1 0 2.3 0a1.15 1.15 0 1 0 -2.3 0zM357.8 65.92m-1.15 0a1.15 1.15 0 1 0 2.3 0a1.15 1.15 0 1 0 -2.3 0zM360.91 57.59m-1.15 0a1.15 1.15 0 1 0 2.3 0a1.15 1.15 0 1 0 -2.3 0zM364.02 46.88m-1.15 0a1.15 1.15 0 1 0 2.3 0a1.15 1.15 0 1 0 -2.3 0zM367.13 38.04m-1.15 0a1.15 1.15 0 1 0 2.3 0a1.15 1.15 0 1 0 -2.3 0zM370.24 31.07m-1.15 0a1.15 1.15 0 1 0 2.3 0a1.15 1.15 0 1 0 -2.3 0zM373.35 27.16m-1.15 0a1.15 1.15 0 1 0 2.3 0a1.15 1.15 0 1 0 -2.3 0zM376.46 26.14m-1.15 0a1.15 1.15 0 1 0 2.3 0a1.15 1.15 0 1 0 -2.3 0zM379.57 32.77m-1.15 0a1.15 1.15 0 1 0 2.3 0a1.15 1.15 0 1 0 -2.3 0zM382.68 41.61m-1.15 0a1.15 1.15 0 1 0 2.3 0a1.15 1.15 0 1 0 -2.3 0zM385.79 51.98m-1.15 0a1.15 1.15 0 1 0 2.3 0a1.15 1.15 0 1 0 -2.3 0zM388.9 63.03m-1.15 0a1.15 1.15 0 1 0 2.3 0a1.15 1.15 0 1 0 -2.3 0zM392.01 73.4m-1.15 0a1.15 1.15 0 1 0 2.3 0a1.15 1.15 0 1 0 -2.3 0zM395.12 80.37m-1.15 0a1.15 1.15 0 1 0 2.3 0a1.15 1.15 0 1 0 -2.3 0zM398.23 88.02m-1.15 0a1.15 1.15 0 1 0 2.3 0a1.15 1.15 0 1 0 -2.3 0zM401.34 93.8m-1.15 0a1.15 1.15 0 1 0 2.3 0a1.15 1.15 0 1 0 -2.3 0zM404.45 98.39m-1.15 0a1.15 1.15 0 1 0 2.3 0a1.15 1.15 0 1 0 -2.3 0zM407.56 102.64m-1.15 0a1.15 1.15 0 1 0 2.3 0a1.15 1.15 0 1 0 -2.3 0zM410.67 105.02m-1.15 0a1.15 1.15 0 1 0 2.3 0a1.15 1.15 0 1 0 -2.3 0zM413.78 107.57m-1.15 0a1.15 1.15 0 1 0 2.3 0a1.15 1.15 0 1 0 -2.3 0zM416.89 109.1m-1.15 0a1.15 1.15 0 1 0 2.3 0a1.15 1.15 0 1 0 -2.3 0zM420 110.46m-1.15 0a1.15 1.15 0 1 0 2.3 0a1.15 1.15 0 1 0 -2.3 0zM423.11 111.82m-1.15 0a1.15 1.15 0 1 0 2.3 0a1.15 1.15 0 1 0 -2.3 0zM426.22 112.84m-1.15 0a1.15 1.15 0 1 0 2.3 0a1.15 1.15 0 1 0 -2.3 0zM429.33 112.84m-1.15 0a1.15 1.15 0 1 0 2.3 0a1.15 1.15 0 1 0 -2.3 0zM432.44 113.01m-1.15 0a1.15 1.15 0 1 0 2.3 0a1.15 1.15 0 1 0 -2.3 0zM435.55 111.99m-1.15 0a1.15 1.15 0 1 0 2.3 0a1.15 1.15 0 1 0 -2.3 0zM438.66 112.67m-1.15 0a1.15 1.15 0 1 0 2.3 0a1.15 1.15 0 1 0 -2.3 0zM441.77 114.88m-1.15 0a1.15 1.15 0 1 0 2.3 0a1.15 1.15 0 1 0 -2.3 0zM444.88 114.03m-1.15 0a1.15 1.15 0 1 0 2.3 0a1.15 1.15 0 1 0 -2.3 0zM447.99 115.22m-1.15 0a1.15 1.15 0 1 0 2.3 0a1.15 1.15 0 1 0 -2.3 0zM451.1 115.9m-1.15 0a1.15 1.15 0 1 0 2.3 0a1.15 1.15 0 1 0 -2.3 0z" fill="#1a8dba"/>
<rect x="292.5" y="15.6" width="162" height="131.1" fill="none" stroke="#555" stroke-width="0.9"/>
<line x1="292.5" y1="124.5" x2="454.5" y2="124.5" stroke="#555" stroke-width="0.9"/>
<path d="M292.5 117.6h-2.6M292.5 83.6h-2.6M292.5 49.6h-2.6M292.5 15.6h-2.6M292.5 144.4h-2.6M292.5 127.3h-2.6M295.6 146.7v1.8M295.6 124.5v1.5M326.7 146.7v1.8M326.7 124.5v1.5M357.8 146.7v1.8M357.8 124.5v1.5M388.9 146.7v1.8M388.9 124.5v1.5M420 146.7v1.8M420 124.5v1.5M451.1 146.7v1.8M451.1 124.5v1.5" stroke="#555" stroke-width="0.8" fill="none"/>
<text x="288.3" y="120.2" font-size="7.3" text-anchor="end" textLength="4.3" lengthAdjust="spacingAndGlyphs">0</text>
<text x="288.3" y="86.2" font-size="7.3" text-anchor="end" textLength="4.3" lengthAdjust="spacingAndGlyphs">2</text>
<text x="288.3" y="52.2" font-size="7.3" text-anchor="end" textLength="4.3" lengthAdjust="spacingAndGlyphs">4</text>
<text x="288.3" y="18.2" font-size="7.3" text-anchor="end" textLength="4.3" lengthAdjust="spacingAndGlyphs">6</text>
<text x="288.3" y="147" font-size="7.3" text-anchor="end" textLength="4.3" lengthAdjust="spacingAndGlyphs">0</text>
<text x="288.3" y="129.9" font-size="7.3" text-anchor="end" textLength="13.4" lengthAdjust="spacingAndGlyphs">250</text>
<text x="295.6" y="157.1" font-size="7.3" text-anchor="middle" textLength="13.4" lengthAdjust="spacingAndGlyphs">440</text>
<text x="326.7" y="157.1" font-size="7.3" text-anchor="middle" textLength="13.4" lengthAdjust="spacingAndGlyphs">460</text>
<text x="357.8" y="157.1" font-size="7.3" text-anchor="middle" textLength="13.4" lengthAdjust="spacingAndGlyphs">480</text>
<text x="388.9" y="157.1" font-size="7.3" text-anchor="middle" textLength="13.4" lengthAdjust="spacingAndGlyphs">500</text>
<text x="420" y="157.1" font-size="7.3" text-anchor="middle" textLength="13.4" lengthAdjust="spacingAndGlyphs">520</text>
<text x="451.4" y="157.1" font-size="7.3" text-anchor="middle" textLength="13.4" lengthAdjust="spacingAndGlyphs">540</text>
<text x="338" y="170" font-size="8" textLength="71" lengthAdjust="spacingAndGlyphs">Wavelength (nm)</text>
<text font-size="8" text-anchor="middle" textLength="16.4" lengthAdjust="spacingAndGlyphs" transform="translate(275.5 69.5) rotate(-90)">SNR</text>
<text font-size="8" text-anchor="middle" textLength="45" lengthAdjust="spacingAndGlyphs" transform="translate(266 124.1) rotate(-90)">Improv. (%)</text>
<line x1="297.9" y1="25.2" x2="314.9" y2="25.2" stroke="#f46d6f" stroke-width="0.9"/>
<circle cx="306.6" cy="25.2" r="1.2" fill="#f46d6f"/>
<text x="319.6" y="27.8" font-size="8" textLength="15.6" lengthAdjust="spacingAndGlyphs">Raw</text>
<line x1="297.9" y1="36.6" x2="314.9" y2="36.6" stroke="#1a8dba" stroke-width="0.9"/>
<circle cx="306.6" cy="36.6" r="1.2" fill="#1a8dba"/>
<text x="319.6" y="39.2" font-size="8" textLength="36.6" lengthAdjust="spacingAndGlyphs">Proposed</text></g>
<g><clipPath id="hclip"><rect x="395.7" y="199.5" width="144.1" height="140.4"/></clipPath>
<g clip-path="url(#hclip)">
<polyline points="396.12,337.78 396.72,337.73 397.32,337.8 397.92,337.89 398.52,337.99 399.12,338.04 399.72,338.16 400.32,338.26 400.92,338.23 401.52,338.29 402.12,338.33 402.72,338.32 403.32,338.23 403.92,338.3 404.52,338.35 405.12,338.3 405.72,338.04 406.32,338.01 406.92,338.02 407.52,338.06 408.12,337.95 408.72,337.93 409.32,337.77 409.92,337.48 410.52,337.17 411.12,336.92 411.72,336.76 412.32,336.48 412.92,336.07 413.52,335.48 414.12,335.05 414.72,334.64 415.32,334.27 415.92,333.69 416.52,333.12 417.12,332.49 417.72,331.62 418.32,330.95 418.92,330.06 419.52,329.56 420.12,329 420.72,328.53 421.32,327.35 421.92,326.06 422.52,324.54 423.12,322.9 423.72,321.41 424.32,320.51 424.92,319.36 425.52,317.01 426.12,314.35 426.72,312.55 427.32,310.94 427.92,308.03 428.52,303 429.12,298.45 429.72,292.83 430.32,288.59 430.92,284.6 431.52,282.43 432.12,277.69 432.72,272.92 433.32,269.11 433.92,265.43 434.52,260.79 435.12,255.15 435.72,251.89 436.32,252.32 436.92,250.82 437.52,248.66 438.12,241.67 438.72,236.37 439.32,231.99 439.92,234.08 440.52,236.44 441.12,232.94 441.72,229.08 442.32,227.02 442.92,227.35 443.52,223.12 444.12,220.56 444.72,220.42 445.32,222.82 445.92,222.88 446.52,223.36 447.12,226.19 447.72,229.42 448.32,232.49 448.92,233.58 449.52,232.52 450.12,231.9 450.72,231.99 451.32,233.91 451.92,233.59 452.52,231.43 453.12,229.44 453.72,228.88 454.32,228.63 454.92,226.44 455.52,224.26 456.12,224.14 456.72,227.13 457.32,228 457.92,226.39 458.52,222.71 459.12,224.54 459.72,222.75 460.32,224.41 460.92,224.14 461.52,226.79 462.12,226.39 462.72,227 463.32,227.51 463.92,231.22 464.52,235.56 465.12,234.88 465.72,228.96 466.32,229.44 466.92,232.59 467.52,233.95 468.12,231.66 468.72,233.54 469.32,238.65 469.92,243.11 470.52,244.71 471.12,243.93 471.72,245.27 472.32,248.09 472.92,247.93 473.52,245.8 474.12,245.88 474.72,247.82 475.32,249.15 475.92,248.36 476.52,246.28 477.12,243.67 477.72,244.86 478.32,247.67 478.92,249.89 479.52,250.63 480.12,253.17 480.72,257.63 481.32,264.13 481.92,271.04 482.52,274.65 483.12,276.28 483.72,278.06 484.32,282.42 484.92,286.5 485.52,288.38 486.12,289.79 486.72,293.09 487.32,297.33 487.92,300.13 488.52,301.95 489.12,303.37 489.72,305.73 490.32,309.44 490.92,312.89 491.52,314.88 492.12,315.85 492.72,317.15 493.32,318.26 493.92,320.1 494.52,321.45 495.12,322.87 495.72,323.74 496.32,324.92 496.92,326.15 497.52,327.1 498.12,327.83 498.72,327.97 499.32,328.49 499.92,328.94 500.52,329.87 501.12,330.58 501.72,331.73 502.32,332.15 502.92,332.53 503.52,332.5 504.12,333.21 504.72,333.65 505.32,334.26 505.92,334.74 506.52,335.16 507.12,335.36 507.72,335.56 508.32,335.99 508.92,336.36 509.52,336.46 510.12,336.39 510.72,336.42 511.32,336.62 511.92,337 512.52,337.19 513.12,337.3 513.72,337.39 514.32,337.5 514.92,337.53 515.52,337.56 516.12,337.77 516.72,337.95 517.32,338.13 517.92,338.13 518.52,338.11 519.12,338.01 519.72,338.05 520.32,338.14 520.92,338.13 521.52,338.2 522.12,338.34 522.72,338.51 523.32,338.46 523.92,338.42 524.52,338.46 525.12,338.55 525.72,338.5 526.32,338.48 526.92,338.52 527.52,338.59 528.12,338.59 528.72,338.56 529.32,338.49 529.92,338.45 530.52,338.47 531.12,338.54 531.72,338.53 532.32,338.49 532.92,338.44 533.52,338.45 534.12,338.54 534.72,338.57 535.32,338.51 535.92,338.46 536.52,338.47 537.12,338.58 537.72,338.56 538.32,338.58 538.92,338.6 539.52,338.63" fill="none" stroke="#111" stroke-width="0.9" stroke-linejoin="round"/>
<polyline points="396.12,339.3 397.32,339.24 398.52,339.23 399.72,339.3 400.92,339.3 402.12,339.3 403.32,339.3 404.52,339.3 405.72,339.3 406.92,337.75 408.12,338.72 409.32,334.87 410.52,334.86 411.72,333.22 412.92,330.94 414.12,331.75 415.32,334.2 416.52,325.85 417.72,335.36 418.92,329.27 420.12,322.41 421.32,326.89 422.52,318.41 423.72,325.71 424.92,321.4 426.12,310.62 427.32,305.9 428.52,298.22 429.72,304.76 430.92,297.58 432.12,290.28 433.32,287.2 434.52,300.11 435.72,288.37 436.92,262.32 438.12,286.59 439.32,260.89 440.52,268.17 441.72,246.41 442.92,263.36 444.12,248.72 445.32,207.14 446.52,241.7 447.72,245.85 448.92,254.46 450.12,215.15 451.32,238.91 452.52,240.51 453.72,264.45 454.92,211.14 456.12,236.99 457.32,232.5 458.52,243.67 459.72,203.8 460.92,213.55 462.12,224.49 463.32,222.59 464.52,253.86 465.72,237.19 466.92,227.16 468.12,244.76 469.32,232.5 470.52,251.64 471.72,265.88 472.92,274.59 474.12,256.53 475.32,264.7 476.52,301.26 477.72,302.17 478.92,273.29 480.12,293.66 481.32,300.57 482.52,300.95 483.72,300.64 484.92,306.73 486.12,317.58 487.32,304.85 488.52,321.53 489.72,329.4 490.92,329.47 492.12,328.96 493.32,331.95 494.52,332.47 495.72,331.53 496.92,339.3 498.12,338.28 499.32,332.65 500.52,335 501.72,339.3 502.92,339.3 504.12,335.75 505.32,339.3 506.52,339.3 507.72,336.33 508.92,339.3 510.12,338.2 511.32,339.3 512.52,339.22 513.72,339.3 514.92,339.3 516.12,337.28 517.32,339.3 518.52,338.86 519.72,339.3 520.92,339.3 522.12,339.3 523.32,339.3 524.52,337.48 525.72,339.3 526.92,337.35 528.12,339.3 529.32,337.84 530.52,335.56 531.72,338.95 532.92,339.3 534.12,338.53 535.32,339.07 536.52,339.3 537.72,339.3 538.92,339.3" fill="none" stroke="#f46d6f" stroke-width="0.8" stroke-linejoin="round"/>
<polyline points="396.12,339.3 396.72,339.3 397.32,339.3 397.92,339.3 398.52,339.3 399.12,339.3 399.72,339.3 400.32,339.3 400.92,339.3 401.52,339.3 402.12,339.3 402.72,339.3 403.32,339.3 403.92,339.3 404.52,339.3 405.12,339.3 405.72,339.15 406.32,338.97 406.92,338.77 407.52,338.55 408.12,338.32 408.72,338.06 409.32,337.78 409.92,337.48 410.52,337.16 411.12,336.8 411.72,336.42 412.32,336.01 412.92,335.57 413.52,335.1 414.12,334.6 414.72,334.05 415.32,333.47 415.92,332.85 416.52,332.19 417.12,331.48 417.72,330.73 418.32,329.93 418.92,329.09 419.52,328.19 420.12,327.24 420.72,326.24 421.32,325.18 421.92,324.07 422.52,322.9 423.12,321.67 423.72,320.39 424.32,319.04 424.92,317.63 425.52,316.16 426.12,314.63 426.72,313.04 427.32,311.38 427.92,309.67 428.52,307.89 429.12,306.06 429.72,304.16 430.32,302.21 430.92,300.21 431.52,298.15 432.12,296.04 432.72,293.88 433.32,291.68 433.92,289.44 434.52,287.15 435.12,284.84 435.72,282.49 436.32,280.11 436.92,277.72 437.52,275.31 438.12,272.88 438.72,270.46 439.32,268.03 439.92,265.61 440.52,263.2 441.12,260.8 441.72,258.44 442.32,256.1 442.92,253.8 443.52,251.54 444.12,249.34 444.72,247.19 445.32,245.11 445.92,243.09 446.52,241.15 447.12,239.3 447.72,237.53 448.32,235.86 448.92,234.29 449.52,232.82 450.12,231.46 450.72,230.22 451.32,229.09 451.92,228.09 452.52,227.22 453.12,226.47 453.72,225.86 454.32,225.38 454.92,225.03 455.52,224.83 456.12,224.76 456.72,224.83 457.32,225.04 457.92,225.4 458.52,225.9 459.12,226.53 459.72,227.3 460.32,228.21 460.92,229.24 461.52,230.41 462.12,231.69 462.72,233.09 463.32,234.61 463.92,236.23 464.52,237.96 465.12,239.78 465.72,241.69 466.32,243.69 466.92,245.76 467.52,247.9 468.12,250.11 468.72,252.37 469.32,254.68 469.92,257.04 470.52,259.43 471.12,261.85 471.72,264.29 472.32,266.75 472.92,269.22 473.52,271.69 474.12,274.16 474.72,276.62 475.32,279.07 475.92,281.49 476.52,283.89 477.12,286.26 477.72,288.6 478.32,290.9 478.92,293.15 479.52,295.36 480.12,297.53 480.72,299.64 481.32,301.69 481.92,303.69 482.52,305.63 483.12,307.51 483.72,309.33 484.32,311.09 484.92,312.78 485.52,314.41 486.12,315.98 486.72,317.48 487.32,318.92 487.92,320.29 488.52,321.61 489.12,322.86 489.72,324.05 490.32,325.18 490.92,326.26 491.52,327.28 492.12,328.24 492.72,329.15 493.32,330 493.92,330.81 494.52,331.57 495.12,332.28 495.72,332.95 496.32,333.58 496.92,334.16 497.52,334.7 498.12,335.21 498.72,335.69 499.32,336.13 499.92,336.53 500.52,336.91 501.12,337.26 501.72,337.58 502.32,337.88 502.92,338.16 503.52,338.41 504.12,338.64 504.72,338.86 505.32,339.05 505.92,339.23 506.52,339.3 507.12,339.3 507.72,339.3 508.32,339.3 508.92,339.3 509.52,339.3 510.12,339.3 510.72,339.3 511.32,339.3 511.92,339.3 512.52,339.3 513.12,339.3 513.72,339.3 514.32,339.3 514.92,339.3 515.52,339.3 516.12,339.3 516.72,339.3 517.32,339.3 517.92,339.3 518.52,339.3 519.12,339.3 519.72,339.3 520.32,339.3 520.92,339.3 521.52,339.3 522.12,339.3 522.72,339.3 523.32,339.3 523.92,339.3 524.52,339.3 525.12,339.3 525.72,339.3 526.32,339.3 526.92,339.3 527.52,339.3 528.12,339.3 528.72,339.3 529.32,339.3 529.92,339.3 530.52,339.3 531.12,339.3 531.72,339.3 532.32,339.3 532.92,339.3 533.52,339.3 534.12,339.3 534.72,339.3 535.32,339.3 535.92,339.3 536.52,339.3 537.12,339.3 537.72,339.3 538.32,339.3 538.92,339.3 539.52,339.3" fill="none" stroke="#1a8dba" stroke-width="1" stroke-linejoin="round"/>
</g>
<rect x="395.7" y="199.5" width="144.1" height="139.8" fill="none" stroke="#555" stroke-width="0.9"/>
<path d="M395.7 339.3h-2.4M395.7 205.8h-2.4M407.52 339.3v1.8M437.52 339.3v1.8M467.52 339.3v1.8M497.52 339.3v1.8M527.52 339.3v1.8" stroke="#555" stroke-width="0.8" fill="none"/>
<text x="391.2" y="208.4" font-size="7.3" text-anchor="end">1</text>
<text x="390.3" y="341.9" font-size="7.3" text-anchor="end" textLength="4.2" lengthAdjust="spacingAndGlyphs">0</text>
<text x="407.52" y="350.6" font-size="7.3" text-anchor="middle" textLength="12.9" lengthAdjust="spacingAndGlyphs">650</text>
<text x="437.52" y="350.6" font-size="7.3" text-anchor="middle" textLength="12.9" lengthAdjust="spacingAndGlyphs">700</text>
<text x="467.52" y="350.6" font-size="7.3" text-anchor="middle" textLength="12.9" lengthAdjust="spacingAndGlyphs">750</text>
<text x="497.52" y="350.6" font-size="7.3" text-anchor="middle" textLength="12.9" lengthAdjust="spacingAndGlyphs">800</text>
<text x="527.52" y="350.6" font-size="7.3" text-anchor="middle" textLength="12.9" lengthAdjust="spacingAndGlyphs">850</text>
<text x="434" y="364.3" font-size="8" textLength="67.6" lengthAdjust="spacingAndGlyphs">Wavelength (nm)</text>
<text font-size="8" text-anchor="middle" textLength="90.2" lengthAdjust="spacingAndGlyphs" transform="translate(386.2 269.1) rotate(-90)">Normalized PL intensity</text>
<line x1="470.3" y1="208.1" x2="481.9" y2="208.1" stroke="#111" stroke-width="0.9"/>
<text x="486" y="210.8" font-size="8" textLength="52.8" lengthAdjust="spacingAndGlyphs">Slow 1st scan</text>
<line x1="470.3" y1="219.2" x2="481.9" y2="219.2" stroke="#f46d6f" stroke-width="0.9"/>
<text x="486" y="221.9" font-size="8" textLength="48.5" lengthAdjust="spacingAndGlyphs">Fast 1st scan</text>
<line x1="470.3" y1="229.8" x2="481.9" y2="229.8" stroke="#1a8dba" stroke-width="0.9"/>
<text x="486" y="232.5" font-size="8" textLength="36.8" lengthAdjust="spacingAndGlyphs">Proposed</text>
<text x="500.6" y="267.75" font-size="8" textLength="32.7" lengthAdjust="spacingAndGlyphs">Spectral</text>
<text x="498" y="277.8" font-size="8" textLength="38" lengthAdjust="spacingAndGlyphs">distortion</text>
<path d="M496 271L487.6 276.2" stroke="#3d4f73" stroke-width="0.9" fill="none"/>
<path d="M485.2 277.7L489.9 276.9L488.0 273.9z" fill="#3d4f73"/></g>
<g><g filter="url(#fa)"><g clip-path="url(#cfa)">
<rect x="10.9" y="15" width="36.48" height="71" fill="#808000"/>
<g clip-path="url(#cfa0)">
<circle cx="31.2" cy="47.4" r="5.5" fill="url(#gb)" opacity="0.35"/>
<circle cx="40.3" cy="51.4" r="4.95" fill="url(#gb)" opacity="0.3"/>
<circle cx="22" cy="74.6" r="4.95" fill="url(#gb)" opacity="0.3"/>
</g>
<rect x="47.28" y="15" width="35.28" height="71" fill="#707300"/>
<g clip-path="url(#cfa1)">
<circle cx="58.5" cy="46" r="4.68" fill="url(#gb)" opacity="0.8"/>
<circle cx="65.6" cy="47.4" r="5.23" fill="url(#gb)" opacity="1"/>
<circle cx="74.3" cy="51.4" r="4.4" fill="url(#gb)" opacity="0.8"/>
<circle cx="78.7" cy="57.5" r="4.4" fill="url(#gb)" opacity="0.85"/>
<circle cx="76.7" cy="67.6" r="3.85" fill="url(#gb)" opacity="0.65"/>
<circle cx="60.5" cy="54.4" r="3.58" fill="url(#gb)" opacity="0.5"/>
<circle cx="66.6" cy="57.5" r="3.58" fill="url(#gb)" opacity="0.5"/>
</g>
<rect x="82.47" y="15" width="35.28" height="71" fill="#4f4200"/>
<g clip-path="url(#cfa2)">
<circle cx="101.2" cy="47.4" r="5.23" fill="url(#gb)" opacity="1"/>
<circle cx="95.8" cy="45.7" r="3.85" fill="url(#gb)" opacity="0.9"/>
<circle cx="108.9" cy="39.9" r="3.85" fill="url(#gb)" opacity="0.9"/>
<circle cx="105.3" cy="43.5" r="3.3" fill="url(#gb)" opacity="0.5"/>
<circle cx="110.7" cy="51.8" r="4.68" fill="url(#gb)" opacity="1"/>
<circle cx="116.4" cy="32.2" r="3.58" fill="url(#gb)" opacity="0.4"/>
<circle cx="93.1" cy="72.6" r="4.12" fill="url(#gb)" opacity="0.3"/>
<circle cx="112.3" cy="60.5" r="3.58" fill="url(#gb)" opacity="0.3"/>
</g>
<rect x="117.65" y="15" width="35.28" height="71" fill="#3b2600"/>
<g clip-path="url(#cfa3)">
<circle cx="140.3" cy="49.4" r="6.33" fill="url(#gb)" opacity="1"/>
<circle cx="145.3" cy="51" r="4.4" fill="url(#gb)" opacity="1"/>
<circle cx="134.2" cy="65.6" r="4.12" fill="url(#gb)" opacity="0.9"/>
<circle cx="150.2" cy="74.2" r="3.85" fill="url(#gb)" opacity="0.85"/>
<circle cx="128.5" cy="38.3" r="4.4" fill="url(#gb)" opacity="0.3"/>
<circle cx="142.7" cy="36.2" r="4.12" fill="url(#gb)" opacity="0.3"/>
<circle cx="144.3" cy="26.1" r="4.12" fill="url(#gb)" opacity="0.3"/>
<circle cx="141.7" cy="67" r="3.85" fill="url(#gb)" opacity="0.35"/>
<circle cx="148.7" cy="66.6" r="3.85" fill="url(#gb)" opacity="0.3"/>
<circle cx="130.5" cy="45.3" r="3.85" fill="url(#gb)" opacity="0.25"/>
</g>
<rect x="152.83" y="15" width="35.28" height="71" fill="#636b00"/>
<g clip-path="url(#cfa4)">
<circle cx="176.3" cy="48" r="6.05" fill="url(#gb)" opacity="0.95"/>
<circle cx="180.7" cy="50.4" r="4.12" fill="url(#gb)" opacity="0.8"/>
<circle cx="163.7" cy="39.3" r="4.95" fill="url(#gb)" opacity="0.7"/>
<circle cx="170.2" cy="64.5" r="4.4" fill="url(#gb)" opacity="0.4"/>
<circle cx="184.4" cy="67.6" r="4.12" fill="url(#gb)" opacity="0.35"/>
</g>
<rect x="188.02" y="15" width="36.18" height="71" fill="#8f7000"/>
<g clip-path="url(#cfa5)">
<circle cx="199" cy="39.3" r="4.95" fill="url(#gb)" opacity="0.45"/>
<circle cx="193.5" cy="72.6" r="4.4" fill="url(#gb)" opacity="0.3"/>
</g>
</g></g>
<rect x="11.05" y="14.8" width="213.3" height="71.5" fill="none" stroke="#f46d6f" stroke-width="2.2"/>
<g filter="url(#fb)"><g clip-path="url(#cfb)">
<rect x="10.9" y="91" width="36.48" height="71" fill="#618000"/>
<g clip-path="url(#cfb0)">
<circle cx="31.2" cy="123.4" r="5.28" fill="url(#gbs)" opacity="0.37"/>
<circle cx="40.3" cy="127.4" r="4.75" fill="url(#gbs)" opacity="0.32"/>
<circle cx="22" cy="150.6" r="4.75" fill="url(#gbs)" opacity="0.32"/>
<circle cx="24.6" cy="122.4" r="4.22" fill="url(#gbs)" opacity="0.73"/>
<circle cx="25.2" cy="129.4" r="4.22" fill="url(#gbs)" opacity="0.63"/>
<circle cx="42.3" cy="108.2" r="4.22" fill="url(#gbs)" opacity="0.63"/>
<circle cx="29.2" cy="114.3" r="3.7" fill="url(#gbs)" opacity="0.53"/>
<circle cx="36" cy="116" r="3.43" fill="url(#gbs)" opacity="0.42"/>
<circle cx="30.2" cy="122.4" r="5.28" fill="url(#gbs)" opacity="0.53"/>
</g>
<rect x="47.28" y="91" width="35.28" height="71" fill="#475400"/>
<g clip-path="url(#cfb1)">
<circle cx="58.5" cy="122" r="4.49" fill="url(#gbs)" opacity="0.84"/>
<circle cx="65.6" cy="123.4" r="5.02" fill="url(#gbs)" opacity="1"/>
<circle cx="74.3" cy="127.4" r="4.22" fill="url(#gbs)" opacity="0.84"/>
<circle cx="78.7" cy="133.5" r="4.22" fill="url(#gbs)" opacity="0.89"/>
<circle cx="76.7" cy="143.6" r="3.7" fill="url(#gbs)" opacity="0.68"/>
<circle cx="60.5" cy="130.4" r="3.43" fill="url(#gbs)" opacity="0.53"/>
<circle cx="66.6" cy="133.5" r="3.43" fill="url(#gbs)" opacity="0.53"/>
<circle cx="72.3" cy="115.3" r="3.17" fill="url(#gbs)" opacity="0.53"/>
<circle cx="79.8" cy="107.2" r="3.7" fill="url(#gbs)" opacity="0.42"/>
</g>
<rect x="82.47" y="91" width="35.28" height="71" fill="#292100"/>
<g clip-path="url(#cfb2)">
<circle cx="101.2" cy="123.4" r="5.02" fill="url(#gbs)" opacity="1"/>
<circle cx="95.8" cy="121.7" r="3.7" fill="url(#gbs)" opacity="0.95"/>
<circle cx="108.9" cy="115.9" r="3.7" fill="url(#gbs)" opacity="0.95"/>
<circle cx="105.3" cy="119.5" r="3.17" fill="url(#gbs)" opacity="0.53"/>
<circle cx="110.7" cy="127.8" r="4.49" fill="url(#gbs)" opacity="1"/>
<circle cx="116.4" cy="108.2" r="3.43" fill="url(#gbs)" opacity="0.42"/>
<circle cx="93.1" cy="148.6" r="3.96" fill="url(#gbs)" opacity="0.32"/>
<circle cx="112.3" cy="136.5" r="3.43" fill="url(#gbs)" opacity="0.32"/>
<circle cx="115" cy="133.5" r="3.7" fill="url(#gbs)" opacity="0.37"/>
<circle cx="106.3" cy="111.2" r="3.43" fill="url(#gbs)" opacity="0.32"/>
<circle cx="116.4" cy="107.8" r="3.7" fill="url(#gbs)" opacity="0.42"/>
</g>
<rect x="117.65" y="91" width="35.28" height="71" fill="#261a00"/>
<g clip-path="url(#cfb3)">
<circle cx="140.3" cy="125.4" r="6.07" fill="url(#gbs)" opacity="1"/>
<circle cx="145.3" cy="127" r="4.22" fill="url(#gbs)" opacity="1"/>
<circle cx="134.2" cy="141.6" r="3.96" fill="url(#gbs)" opacity="0.95"/>
<circle cx="150.2" cy="150.2" r="3.7" fill="url(#gbs)" opacity="0.89"/>
<circle cx="128.5" cy="114.3" r="4.22" fill="url(#gbs)" opacity="0.32"/>
<circle cx="142.7" cy="112.2" r="3.96" fill="url(#gbs)" opacity="0.32"/>
<circle cx="144.3" cy="102.1" r="3.96" fill="url(#gbs)" opacity="0.32"/>
<circle cx="141.7" cy="143" r="3.7" fill="url(#gbs)" opacity="0.37"/>
<circle cx="148.7" cy="142.6" r="3.7" fill="url(#gbs)" opacity="0.32"/>
<circle cx="130.5" cy="121.3" r="3.7" fill="url(#gbs)" opacity="0.26"/>
</g>
<rect x="152.83" y="91" width="35.28" height="71" fill="#546100"/>
<g clip-path="url(#cfb4)">
<circle cx="176.3" cy="124" r="5.81" fill="url(#gbs)" opacity="1"/>
<circle cx="180.7" cy="126.4" r="3.96" fill="url(#gbs)" opacity="0.84"/>
<circle cx="163.7" cy="115.3" r="4.75" fill="url(#gbs)" opacity="0.73"/>
<circle cx="170.2" cy="140.5" r="4.22" fill="url(#gbs)" opacity="0.42"/>
<circle cx="184.4" cy="143.6" r="3.96" fill="url(#gbs)" opacity="0.37"/>
<circle cx="185.4" cy="143" r="3.96" fill="url(#gbs)" opacity="0.32"/>
</g>
<rect x="188.02" y="91" width="36.18" height="71" fill="#808000"/>
<g clip-path="url(#cfb5)">
<circle cx="199" cy="115.3" r="4.75" fill="url(#gbs)" opacity="0.47"/>
<circle cx="193.5" cy="148.6" r="4.22" fill="url(#gbs)" opacity="0.32"/>
<circle cx="198.5" cy="121.3" r="4.22" fill="url(#gbs)" opacity="0.53"/>
<circle cx="210.7" cy="124.4" r="4.75" fill="url(#gbs)" opacity="0.53"/>
<circle cx="214.7" cy="127.4" r="4.22" fill="url(#gbs)" opacity="0.47"/>
<circle cx="200.5" cy="133.5" r="3.96" fill="url(#gbs)" opacity="0.42"/>
<circle cx="216" cy="139" r="3.96" fill="url(#gbs)" opacity="0.37"/>
</g>
</g></g>
<rect x="11.05" y="90.8" width="213.3" height="71.1" fill="none" stroke="#1a8dba" stroke-width="2.2"/>
<text x="18.9" y="84.2" font-size="7.3" textLength="26.5" lengthAdjust="spacingAndGlyphs" fill="#fff">450 nm</text>
<text x="54.8" y="84.2" font-size="7.3" textLength="26.2" lengthAdjust="spacingAndGlyphs" fill="#fff">460 nm</text>
<text x="89.3" y="84.2" font-size="7.3" textLength="25.9" lengthAdjust="spacingAndGlyphs" fill="#fff">470 nm</text>
<text x="124.6" y="84.2" font-size="7.3" textLength="25.8" lengthAdjust="spacingAndGlyphs" fill="#fff">510 nm</text>
<text x="161.4" y="84.2" font-size="7.3" textLength="25.4" lengthAdjust="spacingAndGlyphs" fill="#fff">520 nm</text>
<text x="196.2" y="84.2" font-size="7.3" textLength="25.8" lengthAdjust="spacingAndGlyphs" fill="#fff">530 nm</text>
<text x="18.9" y="159.5" font-size="7.3" textLength="26.5" lengthAdjust="spacingAndGlyphs" fill="#fff">450 nm</text>
<text x="54.8" y="159.5" font-size="7.3" textLength="26.2" lengthAdjust="spacingAndGlyphs" fill="#fff">460 nm</text>
<text x="89.3" y="159.5" font-size="7.3" textLength="25.9" lengthAdjust="spacingAndGlyphs" fill="#fff">470 nm</text>
<text x="124.6" y="159.5" font-size="7.3" textLength="25.8" lengthAdjust="spacingAndGlyphs" fill="#fff">510 nm</text>
<text x="161.4" y="159.5" font-size="7.3" textLength="25.4" lengthAdjust="spacingAndGlyphs" fill="#fff">520 nm</text>
<text x="196.2" y="159.5" font-size="7.3" textLength="25.8" lengthAdjust="spacingAndGlyphs" fill="#fff">530 nm</text>
<text x="109.7" y="25.1" font-size="8.2" textLength="16.2" lengthAdjust="spacingAndGlyphs" fill="#fff">Raw</text>
<text x="98.8" y="101.3" font-size="8.2" textLength="37.4" lengthAdjust="spacingAndGlyphs" fill="#fff">Proposed</text>
<rect x="209.7" y="20.3" width="10.9" height="2" fill="#fff"/>
<text x="206" y="29.6" font-size="6.8" textLength="15.3" lengthAdjust="spacingAndGlyphs" fill="#fff">1 µm</text>
<rect x="229.2" y="17" width="7.7" height="141.8" fill="url(#cba)" stroke="#444" stroke-width="0.5"/>
<path d="M236.9 17.1h1.4M236.9 158.7h1.4" stroke="#555" stroke-width="0.7" fill="none"/>
<text x="240.3" y="19.3" font-size="7.3">1</text>
<text x="241" y="161.4" font-size="7.3" textLength="4.1" lengthAdjust="spacingAndGlyphs">0</text>
<text font-size="8" text-anchor="middle" textLength="76.5" lengthAdjust="spacingAndGlyphs" transform="translate(241.9 84.3) rotate(90)">Normalized PL counts</text></g>
<g><rect x="499.1" y="15" width="135.1" height="134.3" fill="#0b0000"/>
<g clip-path="url(#dclip)">
<line x1="499.1" y1="149.3" x2="634.2" y2="15" stroke="url(#dg1)" stroke-width="4.5" filter="url(#dblur)"/>
<path d="M533.35 115.14h1.3v1.3h-1.3zM550.01 99.66h1.3v1.3h-1.3zM601.09 49.33h1.3v1.3h-1.3zM579.63 68.56h1.3v1.3h-1.3zM564.56 83.12h1.3v1.3h-1.3zM551.21 97.76h1.3v1.3h-1.3zM587.47 58.54h1.3v1.3h-1.3zM537.05 110.96h1.3v1.3h-1.3z" fill="#8b0000"/>
<path d="M566.02 81.59h1.3v1.3h-1.3zM629.95 16.37h1.3v1.3h-1.3zM610.26 36.91h1.3v1.3h-1.3zM594.54 55.64h1.3v1.3h-1.3zM569.05 78.08h1.3v1.3h-1.3zM597.08 52.98h1.3v1.3h-1.3z" fill="#a80000"/>
<path d="M504.69 146.66h1.3v1.3h-1.3zM571.26 74.07h1.3v1.3h-1.3zM546.45 98.23h1.3v1.3h-1.3zM604.6 40.02h1.3v1.3h-1.3zM512.94 134.11h1.3v1.3h-1.3zM539.94 110.82h1.3v1.3h-1.3zM505.89 140.22h1.3v1.3h-1.3zM549.6 95.82h1.3v1.3h-1.3zM527.41 125.51h1.3v1.3h-1.3zM541.85 103.91h1.3v1.3h-1.3zM512.04 134.78h1.3v1.3h-1.3zM605.3 40.16h1.3v1.3h-1.3zM588.31 64.88h1.3v1.3h-1.3z" fill="#510000"/>
<path d="M604.1 44.87h1.3v1.3h-1.3zM624.66 23.79h1.3v1.3h-1.3zM587.21 59.75h1.3v1.3h-1.3zM566.42 83.85h1.3v1.3h-1.3zM608.02 42.15h1.3v1.3h-1.3zM553.01 95.64h1.3v1.3h-1.3z" fill="#b30000"/>
<path d="M622.39 26.31h1.3v1.3h-1.3zM610.75 37.83h1.3v1.3h-1.3zM626.19 22.02h1.3v1.3h-1.3zM600.59 48.11h1.3v1.3h-1.3zM630.83 19.21h1.3v1.3h-1.3zM626.32 24.32h1.3v1.3h-1.3zM620.88 27.68h1.3v1.3h-1.3zM632.97 16.95h1.3v1.3h-1.3zM625.7 23h1.3v1.3h-1.3zM628.2 22.42h1.3v1.3h-1.3zM632.92 16.69h1.3v1.3h-1.3zM624.94 25.01h1.3v1.3h-1.3zM625.43 23.74h1.3v1.3h-1.3zM619.89 27.74h1.3v1.3h-1.3zM606.98 40.86h1.3v1.3h-1.3z" fill="#ff5c00"/>
<path d="M505.56 143.75h1.3v1.3h-1.3zM529.09 124.17h1.3v1.3h-1.3zM545.12 107.91h1.3v1.3h-1.3zM511.15 139.88h1.3v1.3h-1.3z" fill="#3f0000"/>
<path d="M553.69 96.6h1.3v1.3h-1.3zM626.02 20h1.3v1.3h-1.3zM585.52 66.05h1.3v1.3h-1.3z" fill="#b00000"/>
<path d="M555.69 91h1.3v1.3h-1.3zM568.51 79.47h1.3v1.3h-1.3zM559.54 92.33h1.3v1.3h-1.3zM526.75 123.95h1.3v1.3h-1.3zM543.9 105.81h1.3v1.3h-1.3zM560.44 86.66h1.3v1.3h-1.3zM515.67 132.11h1.3v1.3h-1.3zM580.26 69.57h1.3v1.3h-1.3zM618.9 27.53h1.3v1.3h-1.3z" fill="#790000"/>
<path d="M522.94 126.51h1.3v1.3h-1.3zM589.85 61.87h1.3v1.3h-1.3zM527.02 124.21h1.3v1.3h-1.3z" fill="#6c0000"/>
<path d="M511.57 135.05h1.3v1.3h-1.3zM503.56 142.75h1.3v1.3h-1.3zM517.61 133.21h1.3v1.3h-1.3zM552.97 99h1.3v1.3h-1.3zM553.57 98.65h1.3v1.3h-1.3zM538.77 107h1.3v1.3h-1.3zM512.02 137.07h1.3v1.3h-1.3z" fill="#540000"/>
<path d="M564.97 85.3h1.3v1.3h-1.3zM580.61 67.79h1.3v1.3h-1.3zM582.55 68.48h1.3v1.3h-1.3zM578.21 69.45h1.3v1.3h-1.3zM565.28 85.49h1.3v1.3h-1.3zM544.25 103.47h1.3v1.3h-1.3zM627.12 20.14h1.3v1.3h-1.3zM559.87 90.74h1.3v1.3h-1.3zM561.32 86.65h1.3v1.3h-1.3z" fill="#ad0000"/>
<path d="M584.2 66.83h1.3v1.3h-1.3zM632.98 14.68h1.3v1.3h-1.3zM602.28 45.12h1.3v1.3h-1.3zM591.45 59.57h1.3v1.3h-1.3zM605.98 44h1.3v1.3h-1.3z" fill="#ea0000"/>
<path d="M631.57 15.24h1.3v1.3h-1.3zM605.92 45.61h1.3v1.3h-1.3zM593.12 57.88h1.3v1.3h-1.3z" fill="#ec0000"/>
<path d="M512.55 132.99h1.3v1.3h-1.3zM581.51 71.37h1.3v1.3h-1.3zM514.37 135.19h1.3v1.3h-1.3zM572.39 71.71h1.3v1.3h-1.3zM525.27 126.11h1.3v1.3h-1.3zM547.28 106.89h1.3v1.3h-1.3zM616.22 37.26h1.3v1.3h-1.3z" fill="#4a0000"/>
<path d="M514.23 132.32h1.3v1.3h-1.3zM527.73 120.48h1.3v1.3h-1.3zM535.31 111.16h1.3v1.3h-1.3zM530.25 119.03h1.3v1.3h-1.3zM527.95 125.98h1.3v1.3h-1.3zM506.5 140.57h1.3v1.3h-1.3zM542.97 110.13h1.3v1.3h-1.3zM533.35 116.86h1.3v1.3h-1.3zM603.13 51.05h1.3v1.3h-1.3zM576.05 69.04h1.3v1.3h-1.3z" fill="#4c0000"/>
<path d="M533.66 118.95h1.3v1.3h-1.3zM522.76 126.06h1.3v1.3h-1.3zM565.3 79.2h1.3v1.3h-1.3zM553.42 90.65h1.3v1.3h-1.3zM512.15 135.72h1.3v1.3h-1.3zM500.13 146.98h1.3v1.3h-1.3zM527 122.89h1.3v1.3h-1.3zM557.75 86.05h1.3v1.3h-1.3zM509.44 134.83h1.3v1.3h-1.3zM615.85 37.95h1.3v1.3h-1.3zM507.88 139.32h1.3v1.3h-1.3zM608.04 46.02h1.3v1.3h-1.3z" fill="#4f0000"/>
<path d="M603.53 43.64h1.3v1.3h-1.3z" fill="#f70000"/>
<path d="M565.85 86.53h1.3v1.3h-1.3zM589.43 57.83h1.3v1.3h-1.3zM586.3 58.55h1.3v1.3h-1.3zM541.01 106.84h1.3v1.3h-1.3zM552.72 99.43h1.3v1.3h-1.3zM577.26 73.43h1.3v1.3h-1.3zM626.12 19.63h1.3v1.3h-1.3zM575.08 70.98h1.3v1.3h-1.3zM530.27 117.01h1.3v1.3h-1.3z" fill="#810000"/>
<path d="M594.43 53.15h1.3v1.3h-1.3zM629.07 20.74h1.3v1.3h-1.3z" fill="#ff1500"/>
<path d="M593.75 54.91h1.3v1.3h-1.3zM597.19 52.22h1.3v1.3h-1.3z" fill="#ff2200"/>
<path d="M572.9 80.18h1.3v1.3h-1.3zM527.41 121.52h1.3v1.3h-1.3zM579.49 66.01h1.3v1.3h-1.3zM518.75 126.78h1.3v1.3h-1.3zM544.55 106.6h1.3v1.3h-1.3zM635.74 17.59h1.3v1.3h-1.3zM544.1 109.14h1.3v1.3h-1.3zM588.79 64.55h1.3v1.3h-1.3zM628.36 16.81h1.3v1.3h-1.3zM588.37 64.14h1.3v1.3h-1.3zM545.3 102.06h1.3v1.3h-1.3zM529.45 115.19h1.3v1.3h-1.3z" fill="#590000"/>
<path d="M560.93 90.14h1.3v1.3h-1.3zM523.55 125.95h1.3v1.3h-1.3zM516.9 131.91h1.3v1.3h-1.3zM559.01 92.99h1.3v1.3h-1.3zM563.77 88.53h1.3v1.3h-1.3zM525.36 120.61h1.3v1.3h-1.3zM611.6 40.88h1.3v1.3h-1.3zM571.21 81.32h1.3v1.3h-1.3zM549.94 99.04h1.3v1.3h-1.3zM599.29 46.71h1.3v1.3h-1.3zM518.87 131.96h1.3v1.3h-1.3zM546.66 102.51h1.3v1.3h-1.3z" fill="#690000"/>
<path d="M612.04 38.26h1.3v1.3h-1.3zM609.39 39.15h1.3v1.3h-1.3zM634.19 15.75h1.3v1.3h-1.3z" fill="#ff5400"/>
<path d="M595.57 55.36h1.3v1.3h-1.3zM590.01 58.73h1.3v1.3h-1.3zM600.79 45.93h1.3v1.3h-1.3zM564.77 85.14h1.3v1.3h-1.3zM630.79 19.44h1.3v1.3h-1.3zM628.58 22.07h1.3v1.3h-1.3z" fill="#e20000"/>
<path d="M534.03 111.98h1.3v1.3h-1.3zM555.17 97.4h1.3v1.3h-1.3zM581.62 63.99h1.3v1.3h-1.3zM566.77 85.34h1.3v1.3h-1.3zM557.97 95.59h1.3v1.3h-1.3zM548.05 98.51h1.3v1.3h-1.3zM517.34 130.96h1.3v1.3h-1.3zM594.6 51.4h1.3v1.3h-1.3zM544.62 107.61h1.3v1.3h-1.3z" fill="#640000"/>
<path d="M618 32.77h1.3v1.3h-1.3z" fill="#c80000"/>
<path d="M555.68 91.24h1.3v1.3h-1.3zM624.79 26.78h1.3v1.3h-1.3zM567.11 80.33h1.3v1.3h-1.3zM543.22 106.09h1.3v1.3h-1.3zM601.09 49.23h1.3v1.3h-1.3zM564.65 83.83h1.3v1.3h-1.3zM611.56 38.74h1.3v1.3h-1.3zM557.74 92.4h1.3v1.3h-1.3zM567.19 84.33h1.3v1.3h-1.3z" fill="#a50000"/>
<path d="M580.24 71.02h1.3v1.3h-1.3zM587.2 63.91h1.3v1.3h-1.3zM603.99 45.79h1.3v1.3h-1.3z" fill="#d20000"/>
<path d="M601.45 43.61h1.3v1.3h-1.3zM542.17 106.28h1.3v1.3h-1.3zM631.32 14.8h1.3v1.3h-1.3zM559.08 85.9h1.3v1.3h-1.3zM626.75 25.92h1.3v1.3h-1.3z" fill="#710000"/>
<path d="M631.24 18.27h1.3v1.3h-1.3zM593.15 55.29h1.3v1.3h-1.3zM612.76 35.31h1.3v1.3h-1.3z" fill="#ff2c00"/>
<path d="M623.46 23.44h1.3v1.3h-1.3zM576.92 71.85h1.3v1.3h-1.3zM570.78 79.99h1.3v1.3h-1.3zM629.32 17.22h1.3v1.3h-1.3zM621.62 25.06h1.3v1.3h-1.3zM594.7 51h1.3v1.3h-1.3z" fill="#ab0000"/>
<path d="M575.97 70.09h1.3v1.3h-1.3zM533.59 112.77h1.3v1.3h-1.3zM529.22 122.86h1.3v1.3h-1.3zM518.5 129.71h1.3v1.3h-1.3zM631.67 20.49h1.3v1.3h-1.3z" fill="#660000"/>
<path d="M583.76 66.02h1.3v1.3h-1.3zM609.09 40.26h1.3v1.3h-1.3zM576.15 71.24h1.3v1.3h-1.3z" fill="#f90000"/>
<path d="M594.25 54.04h1.3v1.3h-1.3zM589.39 59.48h1.3v1.3h-1.3zM589.28 59.62h1.3v1.3h-1.3zM603.15 46.55h1.3v1.3h-1.3z" fill="#ff3400"/>
<path d="M633.14 16.29h1.3v1.3h-1.3zM578.56 70.04h1.3v1.3h-1.3zM598.8 49.39h1.3v1.3h-1.3z" fill="#ff0d00"/>
<path d="M509.59 133.67h1.3v1.3h-1.3zM508.33 143.23h1.3v1.3h-1.3zM574.5 78.52h1.3v1.3h-1.3zM560.68 82h1.3v1.3h-1.3zM504.02 143.49h1.3v1.3h-1.3z" fill="#440000"/>
<path d="M592.07 59.91h1.3v1.3h-1.3zM615.98 32.21h1.3v1.3h-1.3zM613.5 35.98h1.3v1.3h-1.3zM618.51 29.37h1.3v1.3h-1.3z" fill="#bd0000"/>
<path d="M556.96 88.04h1.3v1.3h-1.3zM507.57 142.36h1.3v1.3h-1.3zM549.16 102.1h1.3v1.3h-1.3zM520.9 123.42h1.3v1.3h-1.3zM519.68 129.8h1.3v1.3h-1.3zM562.91 80.7h1.3v1.3h-1.3zM518.14 131.41h1.3v1.3h-1.3zM550.97 95.41h1.3v1.3h-1.3zM530.34 116.85h1.3v1.3h-1.3zM510.48 134.2h1.3v1.3h-1.3z" fill="#570000"/>
<path d="M512.11 136.63h1.3v1.3h-1.3zM517.27 133.18h1.3v1.3h-1.3zM598.24 53.16h1.3v1.3h-1.3zM523.92 121.91h1.3v1.3h-1.3zM569.95 81.29h1.3v1.3h-1.3zM553.54 92.17h1.3v1.3h-1.3z" fill="#6e0000"/>
<path d="M613.91 35.5h1.3v1.3h-1.3zM622.16 28.48h1.3v1.3h-1.3zM569.73 78.22h1.3v1.3h-1.3zM598.21 53.35h1.3v1.3h-1.3zM559.97 88.09h1.3v1.3h-1.3z" fill="#d50000"/>
<path d="M531.75 114.86h1.3v1.3h-1.3zM549.5 98.45h1.3v1.3h-1.3zM590.87 53.8h1.3v1.3h-1.3z" fill="#5f0000"/>
<path d="M598.19 52.03h1.3v1.3h-1.3zM557.8 90.55h1.3v1.3h-1.3zM618.55 28.22h1.3v1.3h-1.3z" fill="#b50000"/>
<path d="M606.2 41.96h1.3v1.3h-1.3zM561.49 87.06h1.3v1.3h-1.3zM613.19 38.4h1.3v1.3h-1.3z" fill="#d70000"/>
<path d="M590.28 60.57h1.3v1.3h-1.3zM589.55 60.16h1.3v1.3h-1.3zM572.56 78.34h1.3v1.3h-1.3zM588.81 61.22h1.3v1.3h-1.3zM559.57 88.31h1.3v1.3h-1.3zM560.99 88.86h1.3v1.3h-1.3zM554.98 93.02h1.3v1.3h-1.3zM612.87 35.98h1.3v1.3h-1.3zM607.34 39.64h1.3v1.3h-1.3z" fill="#cd0000"/>
<path d="M612.22 38.57h1.3v1.3h-1.3zM609.47 38.77h1.3v1.3h-1.3zM618.53 31.26h1.3v1.3h-1.3zM587.6 62.19h1.3v1.3h-1.3z" fill="#ff3200"/>
<path d="M581.13 65.7h1.3v1.3h-1.3zM566.69 85.3h1.3v1.3h-1.3zM574.15 71.09h1.3v1.3h-1.3zM539.72 108.25h1.3v1.3h-1.3zM532.28 113.2h1.3v1.3h-1.3z" fill="#7b0000"/>
<path d="M592.72 58.3h1.3v1.3h-1.3zM529.51 117.98h1.3v1.3h-1.3zM557.11 88.19h1.3v1.3h-1.3zM574.73 73.52h1.3v1.3h-1.3zM615.62 31.8h1.3v1.3h-1.3z" fill="#900000"/>
<path d="M575.2 72.27h1.3v1.3h-1.3zM619.21 29.52h1.3v1.3h-1.3zM629.67 20.24h1.3v1.3h-1.3z" fill="#cf0000"/>
<path d="M563.89 80.71h1.3v1.3h-1.3zM516.58 136.25h1.3v1.3h-1.3zM549.83 102.82h1.3v1.3h-1.3zM513.96 139.16h1.3v1.3h-1.3zM565.63 77.43h1.3v1.3h-1.3zM566.68 76.22h1.3v1.3h-1.3zM560.39 83.12h1.3v1.3h-1.3z" fill="#420000"/>
<path d="M587.92 60.72h1.3v1.3h-1.3zM599.75 49.46h1.3v1.3h-1.3zM571.63 78.16h1.3v1.3h-1.3zM594.96 55.96h1.3v1.3h-1.3z" fill="#f40000"/>
<path d="M568.02 78.34h1.3v1.3h-1.3zM574.64 76.34h1.3v1.3h-1.3zM579.98 69.79h1.3v1.3h-1.3zM592.82 58.05h1.3v1.3h-1.3zM574.08 75.36h1.3v1.3h-1.3zM560.79 89.46h1.3v1.3h-1.3zM566.28 79.31h1.3v1.3h-1.3zM608.87 41.85h1.3v1.3h-1.3z" fill="#a00000"/>
<path d="M618.27 34.3h1.3v1.3h-1.3zM603.9 49.25h1.3v1.3h-1.3zM541.7 108.58h1.3v1.3h-1.3zM560.97 91.11h1.3v1.3h-1.3zM537.5 112.29h1.3v1.3h-1.3zM522.47 128.81h1.3v1.3h-1.3zM550.33 100.24h1.3v1.3h-1.3zM564.53 88.3h1.3v1.3h-1.3zM506.9 140.29h1.3v1.3h-1.3z" fill="#5c0000"/>
<path d="M549.62 102.99h1.3v1.3h-1.3zM502.47 145.9h1.3v1.3h-1.3zM581.14 71.8h1.3v1.3h-1.3zM512.62 138.75h1.3v1.3h-1.3zM534.87 118.3h1.3v1.3h-1.3zM585.22 68.74h1.3v1.3h-1.3zM530.5 114.96h1.3v1.3h-1.3zM516.57 135.08h1.3v1.3h-1.3zM528.45 122.04h1.3v1.3h-1.3z" fill="#470000"/>
<path d="M555.84 92.73h1.3v1.3h-1.3zM567.48 84.36h1.3v1.3h-1.3zM612.49 35.28h1.3v1.3h-1.3z" fill="#a30000"/>
<path d="M598.49 51.19h1.3v1.3h-1.3zM615.44 34.21h1.3v1.3h-1.3z" fill="#ff0200"/>
<path d="M551.84 95.22h1.3v1.3h-1.3zM557.53 88.8h1.3v1.3h-1.3zM538.67 109.61h1.3v1.3h-1.3zM580.47 70.24h1.3v1.3h-1.3zM543.37 103.04h1.3v1.3h-1.3z" fill="#9e0000"/>
<path d="M607.41 40.28h1.3v1.3h-1.3zM592.16 57.21h1.3v1.3h-1.3zM608.18 41.56h1.3v1.3h-1.3zM616.82 31.11h1.3v1.3h-1.3z" fill="#ff3700"/>
<path d="M594.14 52.74h1.3v1.3h-1.3zM524.82 121.54h1.3v1.3h-1.3zM603.39 42.85h1.3v1.3h-1.3zM535.26 110.97h1.3v1.3h-1.3zM569.22 80.91h1.3v1.3h-1.3zM547.14 100.97h1.3v1.3h-1.3z" fill="#7e0000"/>
<path d="M508.51 138.85h1.3v1.3h-1.3zM505.68 141.88h1.3v1.3h-1.3zM506.43 141.2h1.3v1.3h-1.3zM521.38 133.11h1.3v1.3h-1.3zM543.71 99.59h1.3v1.3h-1.3zM506.59 145.17h1.3v1.3h-1.3z" fill="#3c0000"/>
<path d="M610.35 42.46h1.3v1.3h-1.3zM569.99 81.83h1.3v1.3h-1.3zM553.39 93.21h1.3v1.3h-1.3zM584.49 61.22h1.3v1.3h-1.3zM622.91 22.67h1.3v1.3h-1.3zM579.68 67.23h1.3v1.3h-1.3zM553.75 93.75h1.3v1.3h-1.3zM579.09 67.23h1.3v1.3h-1.3z" fill="#760000"/>
<path d="M590.67 56.71h1.3v1.3h-1.3zM619.35 27.37h1.3v1.3h-1.3z" fill="#ba0000"/>
<path d="M593.71 57.6h1.3v1.3h-1.3zM629.62 17.03h1.3v1.3h-1.3z" fill="#da0000"/>
<path d="M552.71 94.26h1.3v1.3h-1.3zM560.3 90.76h1.3v1.3h-1.3zM615.7 30.51h1.3v1.3h-1.3zM621.76 29.66h1.3v1.3h-1.3zM603.33 42.55h1.3v1.3h-1.3zM537.33 111.98h1.3v1.3h-1.3z" fill="#860000"/>
<path d="M623.27 26.62h1.3v1.3h-1.3z" fill="#ff1a00"/>
<path d="M580.93 67.61h1.3v1.3h-1.3zM601.85 48.19h1.3v1.3h-1.3zM580.47 68.4h1.3v1.3h-1.3zM608.77 39.19h1.3v1.3h-1.3z" fill="#ff2700"/>
<path d="M603.2 45.9h1.3v1.3h-1.3zM625.31 26.2h1.3v1.3h-1.3zM621.96 26.81h1.3v1.3h-1.3z" fill="#ca0000"/>
<path d="M522.96 126.5h1.3v1.3h-1.3zM567.08 85.57h1.3v1.3h-1.3zM549.26 101.46h1.3v1.3h-1.3z" fill="#830000"/>
<path d="M533.22 116.62h1.3v1.3h-1.3zM616.69 36.25h1.3v1.3h-1.3zM562.13 82.4h1.3v1.3h-1.3zM516.28 134.75h1.3v1.3h-1.3zM516.15 129.09h1.3v1.3h-1.3zM531.81 118.23h1.3v1.3h-1.3z" fill="#610000"/>
<path d="M563.1 82.03h1.3v1.3h-1.3zM587.11 65.08h1.3v1.3h-1.3z" fill="#890000"/>
<path d="M556.71 91.78h1.3v1.3h-1.3zM564.87 85.19h1.3v1.3h-1.3zM595.27 55.95h1.3v1.3h-1.3zM607.6 44.78h1.3v1.3h-1.3zM562.42 86.01h1.3v1.3h-1.3zM540.14 108.12h1.3v1.3h-1.3z" fill="#980000"/>
<path d="M620.16 28.4h1.3v1.3h-1.3zM603.67 45.29h1.3v1.3h-1.3zM581.69 66.46h1.3v1.3h-1.3zM551.96 97.54h1.3v1.3h-1.3zM605.01 42.39h1.3v1.3h-1.3z" fill="#c20000"/>
<path d="M585.41 62.16h1.3v1.3h-1.3zM627.93 19.05h1.3v1.3h-1.3zM574.5 71.09h1.3v1.3h-1.3zM568.8 77.11h1.3v1.3h-1.3zM600.89 49.36h1.3v1.3h-1.3zM628.17 23.53h1.3v1.3h-1.3zM529.52 118.22h1.3v1.3h-1.3zM574.74 71.99h1.3v1.3h-1.3zM606.68 41h1.3v1.3h-1.3z" fill="#960000"/>
<path d="M581.93 68.36h1.3v1.3h-1.3zM548.58 102.09h1.3v1.3h-1.3zM557.57 88.68h1.3v1.3h-1.3z" fill="#740000"/>
<path d="M621.17 26.8h1.3v1.3h-1.3zM615.25 34.88h1.3v1.3h-1.3zM616.44 33.06h1.3v1.3h-1.3z" fill="#ff4400"/>
<path d="M567.11 82.86h1.3v1.3h-1.3zM562.71 86.73h1.3v1.3h-1.3zM599.95 47.12h1.3v1.3h-1.3zM603.95 43.02h1.3v1.3h-1.3zM628.77 20.12h1.3v1.3h-1.3zM612.87 34.39h1.3v1.3h-1.3zM563.08 87.57h1.3v1.3h-1.3zM576.22 74.95h1.3v1.3h-1.3zM576.33 73.26h1.3v1.3h-1.3z" fill="#c00000"/>
<path d="M568.53 79.71h1.3v1.3h-1.3zM620.4 30.07h1.3v1.3h-1.3z" fill="#e40000"/>
<path d="M593.78 52.17h1.3v1.3h-1.3zM568.67 83.02h1.3v1.3h-1.3zM629.92 16.23h1.3v1.3h-1.3zM595.41 55.6h1.3v1.3h-1.3zM539.84 108.92h1.3v1.3h-1.3zM554.2 95.66h1.3v1.3h-1.3z" fill="#9b0000"/>
<path d="M581.63 67.14h1.3v1.3h-1.3zM592.64 58.07h1.3v1.3h-1.3zM629.49 21.24h1.3v1.3h-1.3z" fill="#ff1000"/>
<path d="M621.36 26.97h1.3v1.3h-1.3zM613.45 37.32h1.3v1.3h-1.3z" fill="#ff3f00"/>
<path d="M562.4 86.21h1.3v1.3h-1.3zM611.17 39.1h1.3v1.3h-1.3zM615.72 35.91h1.3v1.3h-1.3zM608.18 39.63h1.3v1.3h-1.3zM566.8 82.96h1.3v1.3h-1.3zM601.17 45.43h1.3v1.3h-1.3zM582.77 64h1.3v1.3h-1.3z" fill="#ef0000"/>
<path d="M622.68 27.64h1.3v1.3h-1.3zM618.97 28.46h1.3v1.3h-1.3z" fill="#ff5100"/>
<path d="M599.31 48.21h1.3v1.3h-1.3z" fill="#ff2f00"/>
<path d="M590.38 59.32h1.3v1.3h-1.3zM609.95 38.45h1.3v1.3h-1.3z" fill="#ff1f00"/>
<path d="M617.15 32.14h1.3v1.3h-1.3zM611.76 36.41h1.3v1.3h-1.3z" fill="#ff0000"/>
<path d="M603.22 44.12h1.3v1.3h-1.3zM533.13 114.37h1.3v1.3h-1.3zM573.63 74.55h1.3v1.3h-1.3z" fill="#8e0000"/>
<path d="M624.31 22.45h1.3v1.3h-1.3zM584.28 64.57h1.3v1.3h-1.3z" fill="#f20000"/>
<path d="M615.46 32.09h1.3v1.3h-1.3zM573.15 76.86h1.3v1.3h-1.3zM593.65 55.34h1.3v1.3h-1.3zM589.63 59.03h1.3v1.3h-1.3zM616.61 34.84h1.3v1.3h-1.3z" fill="#b80000"/>
<path d="M625.16 23h1.3v1.3h-1.3z" fill="#ff0500"/>
<path d="M600.11 50.48h1.3v1.3h-1.3zM626.57 21.02h1.3v1.3h-1.3zM585.15 64.11h1.3v1.3h-1.3z" fill="#ff2500"/>
<path d="M605.32 44.8h1.3v1.3h-1.3z" fill="#ff0a00"/>
<path d="M576.26 74.62h1.3v1.3h-1.3zM591.48 59.57h1.3v1.3h-1.3z" fill="#df0000"/>
<path d="M606.34 40.31h1.3v1.3h-1.3zM580.69 69.5h1.3v1.3h-1.3zM605.87 45.6h1.3v1.3h-1.3zM539.54 107.06h1.3v1.3h-1.3zM588.73 56.66h1.3v1.3h-1.3z" fill="#930000"/>
<path d="M606.73 43.1h1.3v1.3h-1.3z" fill="#ff0800"/>
<path d="M621.28 26.57h1.3v1.3h-1.3zM574.36 75.81h1.3v1.3h-1.3z" fill="#e70000"/>
<path d="M621.95 25.09h1.3v1.3h-1.3zM592.27 54.7h1.3v1.3h-1.3z" fill="#dd0000"/>
<path d="M566.96 81.46h1.3v1.3h-1.3zM572.98 77.11h1.3v1.3h-1.3z" fill="#fc0000"/>
<path d="M505.1 142.88h1.3v1.3h-1.3z" fill="#3a0000"/>
<path d="M623.18 25.39h1.3v1.3h-1.3z" fill="#ff1d00"/>
<path d="M632.66 15.92h1.3v1.3h-1.3z" fill="#ff4c00"/>
<path d="M591.79 57.14h1.3v1.3h-1.3z" fill="#ff4100"/>
<line x1="499.1" y1="149.3" x2="634.2" y2="15" stroke="url(#dg2)" stroke-width="1.6"/>
<line x1="499.1" y1="149.3" x2="634.2" y2="15" stroke="url(#dg3)" stroke-width="0.9" stroke-dasharray="1.9 2.5"/>
</g>
<path d="M499.1 149.3h-2M499.1 149.3v1.8M499.1 82.15h-2M566.65 149.3v1.8M499.1 15h-2M634.2 149.3v1.8" stroke="#555" stroke-width="0.8" fill="none"/>
<text x="494.8" y="151.9" font-size="7.3" text-anchor="end" textLength="13.8" lengthAdjust="spacingAndGlyphs">480</text>
<text x="499.1" y="159.8" font-size="7.3" text-anchor="middle" textLength="13.8" lengthAdjust="spacingAndGlyphs">480</text>
<text x="494.8" y="84.75" font-size="7.3" text-anchor="end" textLength="13.8" lengthAdjust="spacingAndGlyphs">490</text>
<text x="566.65" y="159.8" font-size="7.3" text-anchor="middle" textLength="13.8" lengthAdjust="spacingAndGlyphs">490</text>
<text x="494.8" y="17.6" font-size="7.3" text-anchor="end" textLength="13.8" lengthAdjust="spacingAndGlyphs">500</text>
<text x="634.2" y="159.8" font-size="7.3" text-anchor="middle" textLength="13.8" lengthAdjust="spacingAndGlyphs">500</text>
<text x="503.7" y="27" font-size="8.3" textLength="80.5" lengthAdjust="spacingAndGlyphs" fill="#fff">High-intensity zones</text>
<text font-size="8" text-anchor="middle" textLength="134" lengthAdjust="spacingAndGlyphs" transform="translate(473.3 80.3) rotate(-90)">Processed PL peak position (nm)</text>
<text x="567" y="172.8" font-size="8" text-anchor="middle" textLength="108" lengthAdjust="spacingAndGlyphs">Raw PL peak position (nm)</text>
<rect x="642.4" y="14" width="7.2" height="135.9" fill="url(#cbd)" stroke="#444" stroke-width="0.5"/>
<text x="654" y="152.5" font-size="7.3" textLength="4.1" lengthAdjust="spacingAndGlyphs">0</text>
<text x="654" y="118.53" font-size="7.3" textLength="15" lengthAdjust="spacingAndGlyphs">0.05</text>
<text x="654" y="84.55" font-size="7.3" textLength="15" lengthAdjust="spacingAndGlyphs">0.10</text>
<text x="654" y="50.57" font-size="7.3" textLength="15" lengthAdjust="spacingAndGlyphs">0.15</text>
<text x="654" y="16.6" font-size="7.3" textLength="15" lengthAdjust="spacingAndGlyphs">0.20</text>
<path d="M649.6 149.9h1.8M649.6 115.93h1.8M649.6 81.95h1.8M649.6 47.97h1.8M649.6 14h1.8" stroke="#555" stroke-width="0.7" fill="none"/>
<text font-size="8" text-anchor="middle" textLength="76" lengthAdjust="spacingAndGlyphs" transform="translate(677.9 82.2) rotate(90)">Distribution density</text>
<rect x="567.3" y="85.7" width="59.4" height="45.3" fill="none" stroke="#f2f2f2" stroke-width="0.6"/>
<path d="M567.3 131v1.5M597.2 131v1.5M626.7 131v1.5M567.3 131h-1.5M567.3 108.1h-1.5" stroke="#f2f2f2" stroke-width="0.6" fill="none"/>
<path d="M567.7 131V130.89H568.67V130.88H569.63V130.84H570.6V130.83H571.57V130.8H572.54V130.75H573.5V130.73H574.47V130.66H575.44V130.61H576.4V130.56H577.37V130.44H578.34V130.41H579.31V130.26H580.27V130.12H581.24V130.05H582.21V129.74H583.18V129.64H584.14V129.34H585.11V128.92H586.08V128.75H587.04V127.98H588.01V127.51H588.98V126.79H589.95V125.25H590.91V124.48H591.88V121.86H592.85V119.08H593.81V116.06H594.78V108.2H595.75V102.17H596.72V88.41H597.68V99.81H598.65V110.76H599.62V114.48H600.59V119.47H601.55V122.32H602.52V123.72H603.49V125.88H604.45V126.51H605.42V127.44H606.39V128.24H607.36V128.47H608.32V129.1H609.29V129.32H610.26V129.55H611.22V129.88H612.19V129.94H613.16V130.16H614.13V130.28H615.09V130.35H616.06V130.5H617.03V130.53H618V130.61H618.96V130.68H619.93V130.7H620.9V130.77H621.86V130.79H622.83V130.82H623.8V130.86H624.77V130.86H625.73V130.89H626.7V131" stroke="#f2f2f2" stroke-width="0.6" fill="none" stroke-linejoin="round"/>
<text x="567" y="83.4" font-size="6.8" textLength="11.5" lengthAdjust="spacingAndGlyphs" fill="#f2f2f2">×10</text>
<text x="578.8" y="80.6" font-size="4.6" fill="#f2f2f2">3</text>
<text x="588.2" y="83.4" font-size="7.2" textLength="39" lengthAdjust="spacingAndGlyphs" fill="#f2f2f2">σ = 0.19 nm</text>
<text x="567" y="138.4" font-size="6.6" text-anchor="middle" textLength="7.4" lengthAdjust="spacingAndGlyphs" fill="#f2f2f2">−2</text>
<text x="597.2" y="138.4" font-size="6.6" text-anchor="middle" textLength="3.9" lengthAdjust="spacingAndGlyphs" fill="#f2f2f2">0</text>
<text x="626.5" y="138.4" font-size="6.6" text-anchor="middle" textLength="3.9" lengthAdjust="spacingAndGlyphs" fill="#f2f2f2">2</text>
<text x="565.8" y="110.4" font-size="6.6" text-anchor="end" fill="#f2f2f2">1</text>
<text x="565" y="133.3" font-size="6.6" text-anchor="end" textLength="3.9" lengthAdjust="spacingAndGlyphs" fill="#f2f2f2">0</text>
<text x="596.8" y="146.3" font-size="7.3" text-anchor="middle" textLength="73.5" lengthAdjust="spacingAndGlyphs" fill="#f2f2f2">Prediction error (nm)</text>
<text font-size="7.3" text-anchor="middle" textLength="40" lengthAdjust="spacingAndGlyphs" fill="#f2f2f2" transform="translate(556.8 108.5) rotate(-90)">Pixel counts</text></g>
<g><g filter="url(#fe1)">
<rect x="28.3" y="200.9" width="132.3" height="65.5" fill="url(#eg1)"/>
<rect x="28.3" y="200.9" width="132.3" height="65.5" fill="url(#eg3)"/>
<rect x="28.3" y="200.9" width="132.3" height="65.5" fill="url(#eg2)"/>
</g>
<g filter="url(#fe2)">
<rect x="28.3" y="271.3" width="132.3" height="66.2" fill="url(#eg4)"/>
<rect x="28.3" y="271.3" width="132.3" height="66.2" fill="url(#eg6)"/>
<rect x="28.3" y="271.3" width="132.3" height="66.2" fill="url(#eg5)"/>
</g>
<path d="M31.52 225.89h1.4v1.6h-1.4zM29.07 222.14h1.4v1.6h-1.4zM36.45 246.44h1.4v1.6h-1.4zM34.61 246.88h1.4v1.6h-1.4z" fill="#b82531"/>
<path d="M28.99 221.52h1.4v1.6h-1.4zM43.47 245.03h1.4v1.6h-1.4zM29.18 202.73h1.4v1.6h-1.4zM29.67 324.23h1.4v1.6h-1.4z" fill="#4393c3"/>
<path d="M36.12 230.93h1.4v1.6h-1.4zM37.07 202.99h1.4v1.6h-1.4zM41.53 286.54h1.4v1.6h-1.4zM32.78 272.48h1.4v1.6h-1.4z" fill="#276eb0"/>
<path d="M32.92 231.07h1.4v1.6h-1.4zM32.38 217.86h1.4v1.6h-1.4zM38.1 295.33h1.4v1.6h-1.4zM155.44 256.79h1.4v1.6h-1.4zM149.81 259.41h1.4v1.6h-1.4zM148.89 257.7h1.4v1.6h-1.4zM143.8 263.36h1.4v1.6h-1.4zM156.53 261.78h1.4v1.6h-1.4zM152.73 256.23h1.4v1.6h-1.4zM147.7 253.34h1.4v1.6h-1.4zM145.21 240.77h1.4v1.6h-1.4zM146.13 260.42h1.4v1.6h-1.4zM154.5 260.05h1.4v1.6h-1.4zM158.03 258.92h1.4v1.6h-1.4zM153.02 255.78h1.4v1.6h-1.4zM158.07 251.85h1.4v1.6h-1.4zM152.27 256.72h1.4v1.6h-1.4zM153.39 260.46h1.4v1.6h-1.4z" fill="#1b5a9c"/>
<path d="M28.71 228.54h1.4v1.6h-1.4zM28.74 210.86h1.4v1.6h-1.4zM32.02 204.86h1.4v1.6h-1.4zM31.67 314.6h1.4v1.6h-1.4zM34.49 325.35h1.4v1.6h-1.4z" fill="#cf5246"/>
<path d="M42.63 244.36h1.4v1.6h-1.4zM29.17 207.52h1.4v1.6h-1.4zM39.26 241.06h1.4v1.6h-1.4zM29.04 287.77h1.4v1.6h-1.4zM45.69 287.58h1.4v1.6h-1.4zM32.56 285.1h1.4v1.6h-1.4zM32.56 327.02h1.4v1.6h-1.4z" fill="#991027"/>
<path d="M31.79 206.73h1.4v1.6h-1.4zM37.49 228.04h1.4v1.6h-1.4zM29.93 311.2h1.4v1.6h-1.4zM32.44 296.9h1.4v1.6h-1.4z" fill="#8a0b25"/>
<path d="M34.61 243.6h1.4v1.6h-1.4zM31.27 316.4h1.4v1.6h-1.4zM77.38 201.2h1.4v1.6h-1.4zM121.44 201.2h1.4v1.6h-1.4z" fill="#327cb7"/>
<path d="M33.15 214.43h1.4v1.6h-1.4zM36.92 284.74h1.4v1.6h-1.4zM90.88 201.2h1.4v1.6h-1.4zM54.32 201.2h1.4v1.6h-1.4zM57.31 201.2h1.4v1.6h-1.4zM28.31 201.2h1.4v1.6h-1.4z" fill="#b1182b"/>
<path d="M38.43 205.54h1.4v1.6h-1.4zM29.14 316.83h1.4v1.6h-1.4zM44.48 318.87h1.4v1.6h-1.4z" fill="#7c0722"/>
<path d="M86.29 201.2h1.4v1.6h-1.4z" fill="#d6604d"/>
<path d="M59.54 201.2h1.4v1.6h-1.4z" fill="#c43b3c"/>
<path d="M51.05 201.2h1.4v1.6h-1.4zM57.28 201.2h1.4v1.6h-1.4zM157.23 248.52h1.4v1.6h-1.4zM141.19 251.18h1.4v1.6h-1.4zM146.23 261.58h1.4v1.6h-1.4zM156.66 261.92h1.4v1.6h-1.4zM146.98 260.97h1.4v1.6h-1.4zM148.71 255.31h1.4v1.6h-1.4zM148.01 242.95h1.4v1.6h-1.4zM154.6 263.66h1.4v1.6h-1.4zM152.72 261.72h1.4v1.6h-1.4z" fill="#2065ab"/>
<path d="M154.4 255.23h1.4v1.6h-1.4zM149.02 243.42h1.4v1.6h-1.4zM154.73 263.99h1.4v1.6h-1.4zM154.95 257.27h1.4v1.6h-1.4zM157.35 257.2h1.4v1.6h-1.4zM151.72 262.96h1.4v1.6h-1.4zM154.06 255.89h1.4v1.6h-1.4z" fill="#124984"/>
<path d="M158.53 264.49h1.4v1.6h-1.4zM153.7 264.2h1.4v1.6h-1.4zM144.02 263.11h1.4v1.6h-1.4zM149.74 253.84h1.4v1.6h-1.4zM156.01 252.52h1.4v1.6h-1.4zM157.6 253.3h1.4v1.6h-1.4zM143.77 262.25h1.4v1.6h-1.4zM147.45 248.12h1.4v1.6h-1.4zM147.44 247.77h1.4v1.6h-1.4z" fill="#0a3b70"/>
<rect x="28.3" y="200.9" width="132.3" height="65.5" fill="none" stroke="#777" stroke-width="0.8"/>
<rect x="28.3" y="271.3" width="132.3" height="66.2" fill="none" stroke="#777" stroke-width="0.8"/>
<path d="M28.3 217.1h-2M28.3 250.5h-2M28.3 287.6h-2M28.3 321h-2M28.5 337.5v1.8M94.45 337.5v1.8M160.4 337.5v1.8" stroke="#555" stroke-width="0.8" fill="none"/>
<text x="24.2" y="219.7" font-size="7.3" text-anchor="end" textLength="4.1" lengthAdjust="spacingAndGlyphs">3</text>
<text x="24.2" y="253.1" font-size="7.3" text-anchor="end" textLength="4.1" lengthAdjust="spacingAndGlyphs">2</text>
<text x="24.2" y="290.2" font-size="7.3" text-anchor="end" textLength="4.1" lengthAdjust="spacingAndGlyphs">3</text>
<text x="24.2" y="323.6" font-size="7.3" text-anchor="end" textLength="4.1" lengthAdjust="spacingAndGlyphs">2</text>
<text x="28.6" y="347.9" font-size="7.3" text-anchor="middle" textLength="13.2" lengthAdjust="spacingAndGlyphs">480</text>
<text x="94.5" y="347.9" font-size="7.3" text-anchor="middle" textLength="13.2" lengthAdjust="spacingAndGlyphs">490</text>
<text x="160.2" y="347.9" font-size="7.3" text-anchor="middle" textLength="13.2" lengthAdjust="spacingAndGlyphs">500</text>
<text x="60.2" y="361.7" font-size="8" textLength="68.3" lengthAdjust="spacingAndGlyphs">Wavelength (nm)</text>
<text font-size="8.6" text-anchor="middle" textLength="91.7" lengthAdjust="spacingAndGlyphs" transform="translate(12.4 269.85) rotate(-90)">Average photon counts</text>
<text x="140.7" y="211" font-size="8" textLength="16.4" lengthAdjust="spacingAndGlyphs">Raw</text>
<text x="119.9" y="281.2" font-size="8" textLength="37.6" lengthAdjust="spacingAndGlyphs">Proposed</text>
<text x="34.5" y="331.1" font-size="8" textLength="79" lengthAdjust="spacingAndGlyphs">Low-intensity zones</text>
<rect x="165" y="201.1" width="7" height="135.7" fill="url(#cbe)" stroke="#777" stroke-width="0.5"/>
<path d="M172 201.1h1.6M172 268.95h1.6M172 336.8h1.6" stroke="#555" stroke-width="0.7" fill="none"/>
<text x="176.7" y="202.9" font-size="6.6" textLength="4.1" lengthAdjust="spacingAndGlyphs">3</text>
<text x="176.7" y="271.3" font-size="6.6" textLength="4.1" lengthAdjust="spacingAndGlyphs">0</text>
<text x="176.7" y="339.2" font-size="6.6" textLength="7.6" lengthAdjust="spacingAndGlyphs">−3</text>
<text font-size="8.4" text-anchor="middle" textLength="84" lengthAdjust="spacingAndGlyphs" transform="translate(185.5 269) rotate(90)">Prediction error (nm)</text></g>
<g><rect x="576" y="200.2" width="81.3" height="64.4" fill="#000004"/>
<g fill="none" stroke-width="2.73" shape-rendering="crispEdges"><path d="M597.68 201.54h4.06M638.33 201.54h4.06M593.62 204.22h1.35M596.33 204.22h4.06M638.33 204.22h2.71M596.33 206.91h5.42M636.97 206.91h4.06M593.62 209.59h6.77M636.97 209.59h4.06M593.62 212.28h9.48M636.97 212.28h5.42M594.97 214.96h5.42M601.75 214.96h1.35M636.97 214.96h4.06M596.33 217.64h5.42M636.97 217.64h4.06M593.62 220.32h8.13M636.97 220.32h4.06M594.97 223.01h5.42M636.97 223.01h4.06M592.26 225.69h8.13M635.62 225.69h5.42M593.62 228.38h6.77M636.97 228.38h4.06M590.9 231.06h1.35M594.97 231.06h6.77M635.62 231.06h4.06M593.62 233.74h5.42M635.62 233.74h4.06M592.26 236.43h2.71M596.33 236.43h4.06M635.62 236.43h4.06M590.9 239.11h1.35M593.62 239.11h5.42M635.62 239.11h4.06M593.62 241.79h6.77M635.62 241.79h4.06M592.26 244.48h5.42M635.62 244.48h1.35M592.26 247.16h6.77M634.26 247.16h4.06M589.55 249.84h2.71M593.62 249.84h4.06M634.26 249.84h4.06M588.19 252.53h2.71M592.26 252.53h5.42M632.91 252.53h2.71M589.55 255.21h5.42M632.91 255.21h1.35M585.49 257.89h2.71M589.55 257.89h5.42M631.55 257.89h2.71M589.55 260.58h4.06M630.2 260.58h4.06M586.84 263.26h8.13M620.71 263.26h2.71" stroke="#0b0924"/><path d="M601.75 201.54h4.06M635.62 201.54h2.71M600.39 204.22h4.06M635.62 204.22h2.71M601.75 206.91h2.71M635.62 206.91h1.35M600.39 209.59h4.06M635.62 209.59h1.35M603.1 212.28h2.71M635.62 212.28h1.35M600.39 214.96h1.35M603.1 214.96h1.35M635.62 214.96h1.35M601.75 217.64h2.71M635.62 217.64h1.35M601.75 220.32h2.71M635.62 220.32h1.35M600.39 223.01h4.06M634.26 223.01h2.71M600.39 225.69h2.71M600.39 228.38h4.06M635.62 228.38h1.35M601.75 231.06h1.35M632.91 231.06h2.71M599.03 233.74h4.06M634.26 233.74h1.35M600.39 236.43h4.06M632.91 236.43h2.71M599.03 239.11h4.06M632.91 239.11h2.71M600.39 241.79h1.35M634.26 241.79h1.35M597.68 244.48h4.06M631.55 244.48h4.06M599.03 247.16h1.35M631.55 247.16h2.71M597.68 249.84h2.71M631.55 249.84h2.71M597.68 252.53h1.35M630.2 252.53h2.71M594.97 255.21h4.06M630.2 255.21h2.71M594.97 257.89h4.06M628.85 257.89h2.71M593.62 260.58h4.06M627.49 260.58h2.71M594.97 263.26h2.71M619.36 263.26h1.35" stroke="#20114b"/><path d="M605.81 201.54h1.35M634.26 201.54h1.35M604.45 204.22h1.35M634.26 204.22h1.35M604.45 206.91h1.35M634.26 206.91h1.35M604.45 209.59h1.35M634.26 209.59h1.35M634.26 212.28h1.35M604.45 214.96h2.71M634.26 214.96h1.35M604.45 217.64h1.35M634.26 217.64h1.35M604.45 220.32h1.35M632.91 220.32h2.71M604.45 223.01h1.35M632.91 223.01h1.35M603.1 225.69h2.71M632.91 225.69h2.71M604.45 228.38h1.35M634.26 228.38h1.35M603.1 231.06h2.71M603.1 233.74h1.35M632.91 233.74h1.35M603.1 239.11h1.35M631.55 239.11h1.35M601.75 241.79h2.71M631.55 241.79h2.71M601.75 244.48h1.35M600.39 247.16h1.35M600.39 249.84h1.35M628.85 249.84h2.71M599.03 252.53h2.71M628.85 252.53h1.35M599.03 255.21h1.35M628.85 255.21h1.35M599.03 257.89h1.35M597.68 260.58h2.71M626.13 260.58h1.35M597.68 263.26h1.35M618 263.26h1.35" stroke="#3b0f70"/><path d="M607.16 201.54h1.35M632.91 201.54h1.35M605.81 204.22h2.71M632.91 204.22h1.35M605.81 206.91h2.71M632.91 206.91h1.35M605.81 209.59h1.35M632.91 209.59h1.35M605.81 212.28h2.71M632.91 212.28h1.35M607.16 214.96h1.35M632.91 214.96h1.35M605.81 217.64h2.71M632.91 217.64h1.35M605.81 220.32h2.71M605.81 223.01h1.35M631.55 223.01h1.35M631.55 225.69h1.35M605.81 228.38h1.35M632.91 228.38h1.35M605.81 231.06h1.35M631.55 231.06h1.35M604.45 233.74h1.35M631.55 233.74h1.35M604.45 236.43h2.71M631.55 236.43h1.35M604.45 239.11h2.71M604.45 241.79h1.35M603.1 244.48h1.35M630.2 244.48h1.35M601.75 247.16h2.71M628.85 247.16h2.71M601.75 249.84h2.71M601.75 252.53h1.35M627.49 252.53h1.35M600.39 255.21h2.71M626.13 255.21h2.71M600.39 257.89h1.35M627.49 257.89h1.35M624.78 260.58h1.35M599.03 263.26h1.35M616.65 263.26h1.35" stroke="#57157e"/><path d="M608.52 201.54h1.35M631.55 201.54h1.35M608.52 204.22h1.35M631.55 204.22h1.35M608.52 206.91h1.35M607.16 209.59h1.35M631.55 209.59h1.35M608.52 212.28h1.35M631.55 212.28h1.35M631.55 214.96h1.35M608.52 217.64h1.35M631.55 217.64h1.35M631.55 220.32h1.35M607.16 223.01h2.71M605.81 225.69h2.71M607.16 228.38h2.71M630.2 228.38h2.71M607.16 231.06h1.35M630.2 231.06h1.35M605.81 233.74h2.71M630.2 233.74h1.35M607.16 236.43h1.35M630.2 236.43h1.35M630.2 239.11h1.35M630.2 241.79h1.35M604.45 244.48h1.35M628.85 244.48h1.35M604.45 247.16h1.35M627.49 247.16h1.35M627.49 249.84h1.35M603.1 252.53h1.35M626.13 252.53h1.35M601.75 257.89h1.35M626.13 257.89h1.35M600.39 260.58h1.35M623.42 260.58h1.35M600.39 263.26h1.35" stroke="#721f81"/><path d="M609.88 201.54h1.35M630.2 206.91h2.71M608.52 209.59h1.35M630.2 209.59h1.35M609.88 212.28h1.35M608.52 214.96h1.35M630.2 214.96h1.35M609.88 217.64h1.35M608.52 220.32h1.35M630.2 220.32h1.35M630.2 225.69h1.35M608.52 231.06h1.35M628.85 236.43h1.35M607.16 239.11h1.35M628.85 239.11h1.35M605.81 241.79h2.71M628.85 241.79h1.35M605.81 244.48h1.35M627.49 244.48h1.35M605.81 247.16h1.35M604.45 249.84h2.71M626.13 249.84h1.35M603.1 255.21h1.35M624.78 255.21h1.35M603.1 257.89h1.35M624.78 257.89h1.35M601.75 260.58h1.35M622.07 260.58h1.35M615.29 263.26h1.35" stroke="#8c2981"/><path d="M611.23 201.54h1.35M630.2 201.54h1.35M609.88 204.22h1.35M630.2 204.22h1.35M609.88 206.91h2.71M628.85 209.59h1.35M630.2 212.28h1.35M609.88 214.96h1.35M630.2 217.64h1.35M609.88 223.01h2.71M630.2 223.01h1.35M608.52 225.69h2.71M628.85 225.69h1.35M609.88 228.38h1.35M628.85 228.38h1.35M627.49 231.06h2.71M608.52 233.74h1.35M628.85 233.74h1.35M608.52 236.43h1.35M608.52 239.11h1.35M627.49 239.11h1.35M607.16 244.48h1.35M604.45 252.53h1.35M624.78 252.53h1.35M604.45 255.21h1.35M623.42 255.21h1.35M623.42 257.89h1.35M603.1 260.58h1.35M601.75 263.26h1.35" stroke="#a8327d"/><path d="M611.23 204.22h1.35M628.85 206.91h1.35M609.88 209.59h2.71M627.49 209.59h1.35M611.23 212.28h2.71M611.23 214.96h1.35M628.85 214.96h1.35M611.23 217.64h1.35M628.85 217.64h1.35M609.88 220.32h2.71M628.85 220.32h1.35M628.85 223.01h1.35M627.49 228.38h1.35M609.88 231.06h1.35M627.49 233.74h1.35M609.88 236.43h1.35M627.49 236.43h1.35M609.88 239.11h1.35M627.49 241.79h1.35M608.52 244.48h1.35M626.13 244.48h1.35M607.16 247.16h1.35M624.78 247.16h2.71M607.16 249.84h1.35M624.78 249.84h1.35M605.81 252.53h1.35M623.42 252.53h1.35M605.81 255.21h1.35M604.45 257.89h1.35M604.45 260.58h1.35M620.71 260.58h1.35" stroke="#c43c75"/><path d="M612.59 201.54h1.35M628.85 201.54h1.35M628.85 204.22h1.35M612.59 206.91h1.35M628.85 212.28h1.35M612.59 214.96h1.35M627.49 214.96h1.35M612.59 217.64h1.35M627.49 220.32h1.35M612.59 223.01h1.35M627.49 223.01h1.35M611.23 225.69h1.35M627.49 225.69h1.35M611.23 228.38h2.71M611.23 231.06h1.35M609.88 233.74h1.35M611.23 236.43h1.35M626.13 236.43h1.35M626.13 239.11h1.35M608.52 241.79h1.35M626.13 241.79h1.35M624.78 244.48h1.35M608.52 247.16h1.35M608.52 249.84h1.35M622.07 255.21h1.35M622.07 257.89h1.35M619.36 260.58h1.35M603.1 263.26h1.35M612.59 263.26h2.71" stroke="#de4968"/><path d="M627.49 201.54h1.35M612.59 204.22h1.35M627.49 204.22h1.35M626.13 206.91h1.35M612.59 209.59h1.35M627.49 212.28h1.35M626.13 217.64h2.71M612.59 220.32h1.35M626.13 220.32h1.35M626.13 223.01h1.35M626.13 231.06h1.35M611.23 233.74h1.35M626.13 233.74h1.35M611.23 239.11h1.35M624.78 239.11h1.35M609.88 241.79h1.35M624.78 241.79h1.35M609.88 244.48h2.71M609.88 247.16h1.35M623.42 247.16h1.35M607.16 252.53h1.35M622.07 252.53h1.35M607.16 255.21h2.71M605.81 257.89h1.35M605.81 260.58h1.35M604.45 263.26h1.35" stroke="#f1605d"/><path d="M613.94 201.54h1.35M613.94 204.22h1.35M626.13 204.22h1.35M613.94 206.91h1.35M627.49 206.91h1.35M626.13 209.59h1.35M613.94 212.28h1.35M626.13 212.28h1.35M613.94 214.96h2.71M626.13 214.96h1.35M613.94 217.64h2.71M613.94 220.32h1.35M624.78 220.32h1.35M613.94 223.01h1.35M624.78 223.01h1.35M612.59 225.69h1.35M626.13 225.69h1.35M624.78 228.38h2.71M612.59 231.06h1.35M624.78 231.06h1.35M612.59 236.43h1.35M624.78 236.43h1.35M612.59 239.11h2.71M611.23 241.79h1.35M623.42 244.48h1.35M611.23 247.16h1.35M622.07 247.16h1.35M609.88 249.84h1.35M622.07 249.84h2.71M608.52 252.53h1.35M620.71 252.53h1.35M607.16 257.89h1.35M619.36 257.89h2.71M607.16 260.58h1.35M618 260.58h1.35M609.88 263.26h2.71" stroke="#fa7f5e"/><path d="M616.65 201.54h1.35M626.13 201.54h1.35M624.78 206.91h1.35M613.94 209.59h1.35M624.78 209.59h1.35M615.29 212.28h1.35M624.78 212.28h1.35M623.42 214.96h1.35M624.78 217.64h1.35M615.29 220.32h1.35M613.94 228.38h1.35M613.94 231.06h1.35M623.42 231.06h1.35M612.59 233.74h1.35M624.78 233.74h1.35M623.42 239.11h1.35M623.42 241.79h1.35M622.07 244.48h1.35M620.71 249.84h1.35M609.88 252.53h1.35M609.88 255.21h1.35M619.36 255.21h2.71M608.52 260.58h1.35M616.65 260.58h1.35M605.81 263.26h1.35" stroke="#fe9f6d"/><path d="M615.29 201.54h1.35M615.29 204.22h1.35M615.29 206.91h2.71M615.29 209.59h1.35M624.78 214.96h1.35M616.65 217.64h1.35M623.42 217.64h1.35M623.42 220.32h1.35M623.42 223.01h1.35M613.94 225.69h1.35M623.42 225.69h2.71M615.29 228.38h1.35M622.07 228.38h2.71M615.29 231.06h1.35M613.94 233.74h1.35M613.94 236.43h4.06M623.42 236.43h1.35M612.59 241.79h1.35M622.07 241.79h1.35M612.59 244.48h2.71M620.71 244.48h1.35M612.59 247.16h1.35M620.71 247.16h1.35M611.23 249.84h1.35M611.23 252.53h1.35M611.23 255.21h1.35M608.52 257.89h1.35M618 257.89h1.35M609.88 260.58h1.35M613.94 260.58h2.71M607.16 263.26h2.71" stroke="#febf84"/><path d="M618 201.54h8.13M616.65 204.22h1.35M624.78 204.22h1.35M618 206.91h1.35M622.07 206.91h2.71M616.65 209.59h1.35M622.07 209.59h2.71M616.65 212.28h2.71M620.71 212.28h1.35M616.65 214.96h1.35M620.71 214.96h1.35M618 217.64h1.35M620.71 217.64h2.71M622.07 220.32h1.35M615.29 223.01h4.06M622.07 223.01h1.35M616.65 228.38h2.71M616.65 231.06h1.35M620.71 231.06h2.71M615.29 233.74h1.35M622.07 233.74h2.71M622.07 236.43h1.35M615.29 239.11h2.71M619.36 239.11h4.06M615.29 241.79h1.35M615.29 244.48h1.35M619.36 244.48h1.35M613.94 247.16h1.35M616.65 247.16h1.35M619.36 247.16h1.35M612.59 249.84h2.71M619.36 249.84h1.35M618 252.53h2.71M612.59 255.21h1.35M616.65 255.21h2.71M609.88 257.89h1.35M616.65 257.89h1.35M611.23 260.58h1.35" stroke="#fddea0"/><path d="M618 204.22h6.77M619.36 206.91h2.71M618 209.59h4.06M619.36 212.28h1.35M622.07 212.28h2.71M618 214.96h2.71M622.07 214.96h1.35M619.36 217.64h1.35M616.65 220.32h5.42M619.36 223.01h2.71M615.29 225.69h8.13M619.36 228.38h2.71M618 231.06h2.71M616.65 233.74h5.42M618 236.43h4.06M618 239.11h1.35M613.94 241.79h1.35M616.65 241.79h5.42M616.65 244.48h2.71M615.29 247.16h1.35M618 247.16h1.35M615.29 249.84h4.06M612.59 252.53h5.42M613.94 255.21h2.71M611.23 257.89h5.42M612.59 260.58h1.35" stroke="#fcfdbf"/></g>
<rect x="576" y="273.4" width="81.3" height="64.7" fill="#000004"/>
<g fill="none" stroke-width="2.54" shape-rendering="crispEdges"><path d="M596.33 274.64h6.77M636.97 274.64h4.06M596.33 277.13h6.77M636.97 277.13h4.06M596.33 279.62h6.77M636.97 279.62h4.06M596.33 282.11h6.77M636.97 282.11h4.06M596.33 284.6h6.77M636.97 284.6h2.71M596.33 287.09h6.77M636.97 287.09h2.71M596.33 289.57h6.77M636.97 289.57h2.71M596.33 292.06h6.77M636.97 292.06h2.71M596.33 294.55h6.77M636.97 294.55h2.71M596.33 297.04h5.42M636.97 297.04h2.71M594.97 299.53h6.77M635.62 299.53h4.06M594.97 302.02h6.77M635.62 302.02h2.71M593.62 304.51h6.77M635.62 304.51h2.71M592.26 306.99h6.77M635.62 306.99h2.71M592.26 309.48h6.77M634.26 309.48h4.06M590.9 311.97h6.77M634.26 311.97h2.71M590.9 314.46h6.77M634.26 314.46h2.71M590.9 316.95h5.42M632.91 316.95h2.71M589.55 319.44h6.77M632.91 319.44h2.71M589.55 321.93h6.77M632.91 321.93h2.71M589.55 324.41h6.77M631.55 324.41h4.06M588.19 326.9h6.77M631.55 326.9h2.71M589.55 329.39h5.42M630.2 329.39h2.71M588.19 331.88h6.77M628.85 331.88h4.06M588.19 334.37h5.42M630.2 334.37h2.71M588.19 336.86h5.42M626.13 336.86h2.71" stroke="#07061c"/><path d="M603.1 274.64h2.71M635.62 274.64h1.35M603.1 277.13h2.71M635.62 277.13h1.35M603.1 279.62h2.71M635.62 279.62h1.35M603.1 282.11h2.71M635.62 282.11h1.35M603.1 284.6h2.71M635.62 284.6h1.35M603.1 287.09h2.71M635.62 287.09h1.35M603.1 289.57h2.71M635.62 289.57h1.35M603.1 292.06h2.71M635.62 292.06h1.35M603.1 294.55h2.71M635.62 294.55h1.35M601.75 297.04h4.06M634.26 297.04h2.71M601.75 299.53h2.71M634.26 299.53h1.35M601.75 302.02h2.71M634.26 302.02h1.35M600.39 304.51h2.71M632.91 304.51h2.71M599.03 306.99h2.71M634.26 306.99h1.35M599.03 309.48h2.71M632.91 309.48h1.35M597.68 311.97h2.71M632.91 311.97h1.35M597.68 314.46h2.71M632.91 314.46h1.35M596.33 316.95h2.71M631.55 316.95h1.35M596.33 319.44h2.71M630.2 319.44h2.71M596.33 321.93h2.71M631.55 321.93h1.35M596.33 324.41h2.71M630.2 324.41h1.35M594.97 326.9h2.71M630.2 326.9h1.35M594.97 329.39h4.06M628.85 329.39h1.35M594.97 331.88h2.71M627.49 331.88h1.35M593.62 334.37h4.06M627.49 334.37h2.71M593.62 336.86h1.35M623.42 336.86h2.71" stroke="#150e38"/><path d="M605.81 274.64h2.71M634.26 274.64h1.35M605.81 277.13h2.71M634.26 277.13h1.35M605.81 279.62h2.71M634.26 279.62h1.35M605.81 282.11h2.71M634.26 282.11h1.35M605.81 284.6h1.35M634.26 284.6h1.35M605.81 287.09h1.35M634.26 287.09h1.35M605.81 289.57h1.35M634.26 289.57h1.35M605.81 292.06h1.35M634.26 292.06h1.35M605.81 294.55h1.35M634.26 294.55h1.35M605.81 297.04h1.35M604.45 299.53h2.71M632.91 299.53h1.35M604.45 302.02h1.35M632.91 302.02h1.35M603.1 304.51h2.71M601.75 306.99h2.71M632.91 306.99h1.35M601.75 309.48h1.35M631.55 309.48h1.35M600.39 311.97h1.35M631.55 311.97h1.35M600.39 314.46h1.35M631.55 314.46h1.35M599.03 316.95h2.71M630.2 316.95h1.35M599.03 319.44h1.35M628.85 319.44h1.35M599.03 321.93h1.35M630.2 321.93h1.35M599.03 324.41h1.35M628.85 324.41h1.35M597.68 326.9h1.35M628.85 326.9h1.35M599.03 329.39h1.35M627.49 329.39h1.35M597.68 331.88h2.71M626.13 331.88h1.35M597.68 334.37h1.35M626.13 334.37h1.35M594.97 336.86h1.35M622.07 336.86h1.35" stroke="#29115a"/><path d="M608.52 274.64h1.35M608.52 277.13h1.35M608.52 279.62h1.35M608.52 282.11h1.35M607.16 284.6h1.35M632.91 284.6h1.35M607.16 287.09h2.71M632.91 287.09h1.35M607.16 289.57h1.35M632.91 289.57h1.35M607.16 292.06h1.35M632.91 292.06h1.35M607.16 294.55h1.35M632.91 294.55h1.35M607.16 297.04h1.35M632.91 297.04h1.35M607.16 299.53h1.35M605.81 302.02h1.35M631.55 302.02h1.35M605.81 304.51h1.35M631.55 304.51h1.35M604.45 306.99h1.35M631.55 306.99h1.35M603.1 309.48h1.35M601.75 311.97h1.35M630.2 311.97h1.35M601.75 314.46h2.71M630.2 314.46h1.35M601.75 316.95h1.35M628.85 316.95h1.35M600.39 319.44h1.35M600.39 321.93h1.35M628.85 321.93h1.35M600.39 324.41h1.35M599.03 326.9h2.71M627.49 326.9h1.35M600.39 329.39h1.35M626.13 329.39h1.35M600.39 331.88h1.35M599.03 334.37h1.35M596.33 336.86h1.35M620.71 336.86h1.35" stroke="#3f0f72"/><path d="M632.91 274.64h1.35M609.88 277.13h1.35M632.91 277.13h1.35M632.91 279.62h1.35M632.91 282.11h1.35M608.52 284.6h1.35M608.52 289.57h1.35M608.52 292.06h1.35M608.52 294.55h1.35M608.52 297.04h1.35M631.55 297.04h1.35M631.55 299.53h1.35M607.16 302.02h1.35M607.16 304.51h1.35M630.2 304.51h1.35M630.2 306.99h1.35M604.45 309.48h1.35M630.2 309.48h1.35M603.1 311.97h1.35M628.85 311.97h1.35M628.85 314.46h1.35M603.1 316.95h1.35M601.75 319.44h1.35M627.49 319.44h1.35M601.75 321.93h1.35M627.49 321.93h1.35M601.75 324.41h1.35M627.49 324.41h1.35M626.13 326.9h1.35M601.75 329.39h1.35M624.78 329.39h1.35M601.75 331.88h1.35M624.78 331.88h1.35M600.39 334.37h1.35M624.78 334.37h1.35M597.68 336.86h1.35M619.36 336.86h1.35" stroke="#56147d"/><path d="M609.88 274.64h1.35M631.55 274.64h1.35M631.55 277.13h1.35M609.88 279.62h1.35M631.55 279.62h1.35M609.88 282.11h1.35M631.55 282.11h1.35M609.88 284.6h1.35M631.55 284.6h1.35M609.88 287.09h1.35M631.55 287.09h1.35M609.88 289.57h1.35M631.55 289.57h1.35M609.88 292.06h1.35M631.55 292.06h1.35M609.88 294.55h1.35M631.55 294.55h1.35M608.52 299.53h1.35M630.2 299.53h1.35M608.52 302.02h1.35M630.2 302.02h1.35M605.81 306.99h1.35M605.81 309.48h1.35M628.85 309.48h1.35M604.45 311.97h1.35M604.45 314.46h1.35M627.49 316.95h1.35M603.1 319.44h1.35M603.1 321.93h1.35M603.1 324.41h1.35M626.13 324.41h1.35M601.75 326.9h1.35M623.42 334.37h1.35M599.03 336.86h1.35" stroke="#6a1c81"/><path d="M611.23 274.64h1.35M611.23 277.13h1.35M611.23 279.62h1.35M611.23 282.11h1.35M611.23 284.6h1.35M611.23 287.09h1.35M630.2 289.57h1.35M611.23 292.06h1.35M609.88 297.04h1.35M630.2 297.04h1.35M609.88 299.53h1.35M608.52 304.51h1.35M628.85 304.51h1.35M607.16 306.99h1.35M628.85 306.99h1.35M605.81 311.97h1.35M627.49 311.97h1.35M605.81 314.46h1.35M627.49 314.46h1.35M604.45 316.95h1.35M604.45 319.44h1.35M626.13 319.44h1.35M604.45 321.93h1.35M626.13 321.93h1.35M603.1 326.9h1.35M624.78 326.9h1.35M603.1 329.39h1.35M623.42 329.39h1.35M603.1 331.88h1.35M623.42 331.88h1.35M601.75 334.37h1.35M618 336.86h1.35" stroke="#802582"/><path d="M630.2 274.64h1.35M630.2 279.62h1.35M630.2 282.11h1.35M630.2 284.6h1.35M630.2 287.09h1.35M611.23 289.57h1.35M630.2 292.06h1.35M611.23 294.55h1.35M630.2 294.55h1.35M611.23 297.04h1.35M628.85 299.53h1.35M609.88 302.02h1.35M628.85 302.02h1.35M609.88 304.51h1.35M608.52 306.99h1.35M607.16 309.48h1.35M627.49 309.48h1.35M605.81 316.95h1.35M626.13 316.95h1.35M604.45 324.41h1.35M624.78 324.41h1.35M604.45 329.39h1.35M603.1 334.37h1.35M622.07 334.37h1.35M600.39 336.86h1.35M616.65 336.86h1.35" stroke="#942c80"/><path d="M612.59 274.64h1.35M612.59 277.13h1.35M630.2 277.13h1.35M612.59 279.62h1.35M612.59 282.11h1.35M612.59 284.6h1.35M612.59 287.09h1.35M612.59 292.06h1.35M628.85 297.04h1.35M611.23 299.53h1.35M611.23 302.02h1.35M627.49 304.51h1.35M627.49 306.99h1.35M608.52 309.48h1.35M607.16 311.97h1.35M626.13 311.97h1.35M607.16 314.46h1.35M626.13 314.46h1.35M605.81 319.44h1.35M624.78 319.44h1.35M605.81 321.93h1.35M624.78 321.93h1.35M605.81 324.41h1.35M604.45 326.9h1.35M623.42 326.9h1.35M622.07 329.39h1.35M604.45 331.88h1.35M622.07 331.88h1.35" stroke="#ab337c"/><path d="M628.85 279.62h1.35M628.85 284.6h1.35M628.85 287.09h1.35M612.59 289.57h1.35M628.85 289.57h1.35M628.85 292.06h1.35M612.59 294.55h1.35M628.85 294.55h1.35M612.59 297.04h1.35M627.49 302.02h1.35M611.23 304.51h1.35M609.88 306.99h1.35M608.52 314.46h1.35M607.16 316.95h1.35M624.78 316.95h1.35M605.81 326.9h1.35M605.81 329.39h1.35M604.45 334.37h1.35M620.71 334.37h1.35M601.75 336.86h1.35M615.29 336.86h1.35" stroke="#c03a76"/><path d="M613.94 274.64h1.35M628.85 274.64h1.35M613.94 277.13h1.35M628.85 277.13h1.35M613.94 279.62h1.35M613.94 282.11h1.35M628.85 282.11h1.35M613.94 284.6h1.35M613.94 287.09h1.35M613.94 292.06h1.35M627.49 297.04h1.35M612.59 299.53h1.35M627.49 299.53h1.35M626.13 304.51h1.35M609.88 309.48h1.35M626.13 309.48h1.35M608.52 311.97h1.35M624.78 311.97h1.35M624.78 314.46h1.35M607.16 319.44h1.35M623.42 319.44h1.35M607.16 321.93h1.35M623.42 321.93h1.35M607.16 324.41h1.35M623.42 324.41h1.35M622.07 326.9h1.35M620.71 329.39h1.35M605.81 331.88h1.35M620.71 331.88h1.35M603.1 336.86h1.35M613.94 336.86h1.35" stroke="#d6456c"/><path d="M627.49 284.6h1.35M613.94 289.57h1.35M627.49 289.57h1.35M627.49 292.06h1.35M613.94 294.55h1.35M627.49 294.55h1.35M613.94 297.04h1.35M612.59 302.02h1.35M626.13 302.02h1.35M611.23 306.99h1.35M626.13 306.99h1.35M609.88 314.46h1.35M608.52 316.95h1.35M623.42 316.95h1.35M607.16 326.9h1.35M607.16 329.39h1.35M605.81 334.37h1.35M619.36 334.37h1.35" stroke="#e85362"/><path d="M615.29 274.64h1.35M627.49 274.64h1.35M615.29 277.13h1.35M627.49 277.13h1.35M615.29 279.62h1.35M627.49 279.62h1.35M615.29 282.11h1.35M627.49 282.11h1.35M615.29 284.6h1.35M615.29 287.09h1.35M627.49 287.09h1.35M615.29 292.06h1.35M613.94 299.53h1.35M626.13 299.53h1.35M612.59 304.51h1.35M624.78 304.51h1.35M611.23 309.48h1.35M624.78 309.48h1.35M609.88 311.97h1.35M623.42 311.97h1.35M608.52 319.44h1.35M622.07 319.44h1.35M608.52 321.93h1.35M622.07 321.93h1.35M608.52 324.41h1.35M622.07 324.41h1.35M607.16 331.88h1.35M619.36 331.88h1.35M604.45 336.86h1.35M612.59 336.86h1.35" stroke="#f4695c"/><path d="M615.29 289.57h1.35M626.13 289.57h1.35M615.29 294.55h1.35M626.13 294.55h1.35M615.29 297.04h1.35M626.13 297.04h1.35M613.94 302.02h1.35M624.78 302.02h1.35M612.59 306.99h1.35M624.78 306.99h1.35M611.23 314.46h1.35M623.42 314.46h1.35M609.88 316.95h1.35M608.52 326.9h1.35M620.71 326.9h1.35M608.52 329.39h1.35M619.36 329.39h1.35M607.16 334.37h1.35M618 334.37h1.35M605.81 336.86h1.35M609.88 336.86h2.71" stroke="#fa815f"/><path d="M616.65 274.64h1.35M626.13 274.64h1.35M616.65 277.13h1.35M626.13 277.13h1.35M616.65 279.62h1.35M626.13 279.62h1.35M616.65 282.11h1.35M626.13 282.11h1.35M616.65 284.6h1.35M626.13 284.6h1.35M616.65 287.09h1.35M626.13 287.09h1.35M616.65 292.06h1.35M626.13 292.06h1.35M615.29 299.53h1.35M624.78 299.53h1.35M613.94 304.51h1.35M623.42 304.51h1.35M612.59 309.48h1.35M623.42 309.48h1.35M611.23 311.97h1.35M611.23 316.95h1.35M622.07 316.95h1.35M609.88 319.44h1.35M620.71 319.44h1.35M609.88 321.93h1.35M609.88 324.41h1.35M620.71 324.41h1.35M608.52 331.88h1.35M618 331.88h1.35M607.16 336.86h2.71" stroke="#fd9b6b"/><path d="M616.65 289.57h1.35M624.78 289.57h1.35M616.65 294.55h1.35M624.78 294.55h1.35M616.65 297.04h1.35M624.78 297.04h1.35M615.29 302.02h1.35M623.42 302.02h1.35M615.29 304.51h1.35M613.94 306.99h1.35M623.42 306.99h1.35M612.59 311.97h1.35M622.07 311.97h1.35M612.59 314.46h1.35M622.07 314.46h1.35M611.23 321.93h1.35M620.71 321.93h1.35M609.88 326.9h1.35M619.36 326.9h1.35M609.88 329.39h1.35M618 329.39h1.35M608.52 334.37h1.35M616.65 334.37h1.35" stroke="#feb47b"/><path d="M618 274.64h1.35M624.78 274.64h1.35M618 277.13h1.35M624.78 277.13h1.35M618 279.62h1.35M624.78 279.62h1.35M618 282.11h1.35M624.78 282.11h1.35M618 284.6h1.35M624.78 284.6h1.35M618 287.09h1.35M624.78 287.09h1.35M618 289.57h1.35M618 292.06h1.35M624.78 292.06h1.35M618 294.55h1.35M623.42 297.04h1.35M616.65 299.53h1.35M623.42 299.53h1.35M616.65 302.02h1.35M622.07 304.51h1.35M613.94 309.48h1.35M622.07 309.48h1.35M620.71 311.97h1.35M612.59 316.95h1.35M620.71 316.95h1.35M611.23 319.44h1.35M619.36 319.44h1.35M619.36 321.93h1.35M611.23 324.41h1.35M619.36 324.41h1.35M616.65 329.39h1.35M609.88 331.88h1.35M616.65 331.88h1.35M609.88 334.37h1.35M615.29 334.37h1.35" stroke="#fecd90"/><path d="M619.36 274.64h1.35M623.42 274.64h1.35M619.36 277.13h1.35M623.42 277.13h1.35M619.36 279.62h1.35M623.42 279.62h1.35M619.36 282.11h1.35M623.42 282.11h1.35M619.36 284.6h1.35M623.42 284.6h1.35M619.36 287.09h1.35M623.42 287.09h1.35M623.42 289.57h1.35M619.36 292.06h1.35M623.42 292.06h1.35M623.42 294.55h1.35M618 297.04h1.35M618 299.53h1.35M622.07 299.53h1.35M618 302.02h1.35M622.07 302.02h1.35M616.65 304.51h1.35M620.71 304.51h1.35M615.29 306.99h1.35M622.07 306.99h1.35M615.29 309.48h1.35M620.71 309.48h1.35M613.94 311.97h1.35M613.94 314.46h1.35M620.71 314.46h1.35M613.94 316.95h1.35M619.36 316.95h1.35M612.59 319.44h1.35M612.59 321.93h1.35M612.59 324.41h1.35M618 324.41h1.35M611.23 326.9h1.35M618 326.9h1.35M611.23 329.39h1.35M611.23 331.88h1.35M615.29 331.88h1.35M611.23 334.37h4.06" stroke="#fde5a7"/><path d="M620.71 274.64h2.71M620.71 277.13h2.71M620.71 279.62h2.71M620.71 282.11h2.71M620.71 284.6h2.71M620.71 287.09h2.71M619.36 289.57h4.06M620.71 292.06h2.71M619.36 294.55h4.06M619.36 297.04h4.06M619.36 299.53h2.71M619.36 302.02h2.71M618 304.51h2.71M616.65 306.99h5.42M616.65 309.48h4.06M615.29 311.97h5.42M615.29 314.46h5.42M615.29 316.95h4.06M613.94 319.44h5.42M613.94 321.93h5.42M613.94 324.41h4.06M612.59 326.9h5.42M612.59 329.39h4.06M612.59 331.88h2.71" stroke="#fcfdbf"/></g>
<path d="M576 200.4h-2.2M576 232.4h-2.2M576 264.6h-2.2M576 273.7h-2.2M576 306h-2.2M576 338.1h-2.2M600.5 338.1v1.8M633.4 338.1v1.8" stroke="#555" stroke-width="0.8" fill="none"/>
<text x="571.6" y="203.1" font-size="7.3" text-anchor="end" textLength="8.8" lengthAdjust="spacingAndGlyphs">20</text>
<text x="571.6" y="235" font-size="7.3" text-anchor="end" textLength="8" lengthAdjust="spacingAndGlyphs">10</text>
<text x="571.6" y="267.6" font-size="7.3" text-anchor="end" textLength="4.2" lengthAdjust="spacingAndGlyphs">0</text>
<text x="571.6" y="276.8" font-size="7.3" text-anchor="end" textLength="8.8" lengthAdjust="spacingAndGlyphs">20</text>
<text x="571.6" y="308.6" font-size="7.3" text-anchor="end" textLength="8" lengthAdjust="spacingAndGlyphs">10</text>
<text x="571.6" y="341.1" font-size="7.3" text-anchor="end" textLength="4.2" lengthAdjust="spacingAndGlyphs">0</text>
<text x="600.3" y="349" font-size="7.3" text-anchor="middle" textLength="12.9" lengthAdjust="spacingAndGlyphs">700</text>
<text x="633.4" y="349" font-size="7.3" text-anchor="middle" textLength="12.9" lengthAdjust="spacingAndGlyphs">800</text>
<text x="583" y="363" font-size="8" textLength="67.6" lengthAdjust="spacingAndGlyphs">Wavelength (nm)</text>
<text font-size="8" text-anchor="middle" textLength="41.8" lengthAdjust="spacingAndGlyphs" transform="translate(556 270.4) rotate(-90)">Time (min)</text>
<text x="579.7" y="209.9" font-size="8" textLength="16.3" lengthAdjust="spacingAndGlyphs" fill="#fff">Raw</text>
<text x="579.7" y="283.6" font-size="8" textLength="36.8" lengthAdjust="spacingAndGlyphs" fill="#fff">Proposed</text>
<rect x="662.2" y="199.3" width="7.3" height="140" fill="url(#cbi)" stroke="#444" stroke-width="0.5"/>
<path d="M669.5 199.3h1.6M669.5 339.3h1.6" stroke="#555" stroke-width="0.7" fill="none"/>
<text x="672.4" y="201.9" font-size="7.3">1</text>
<text x="673.3" y="341.9" font-size="7.3" textLength="4.3" lengthAdjust="spacingAndGlyphs">0</text>
<text font-size="8" text-anchor="middle" textLength="90" lengthAdjust="spacingAndGlyphs" transform="translate(677.6 269) rotate(90)">Normalized PL intensity</text></g>
<g><g filter="url(#ff)"><g clip-path="url(#cff)">
<g clip-path="url(#cff0)">
<rect x="205.3" y="198" width="37.08" height="71" fill="#a82100"/>
<g filter="url(#bl2)">
<path d="M225.2 214.2L246 212.2L246 250.6L227.2 251.6L222.2 246.5L224.2 236.4L218.6 228.3L220.4 220.3z" fill="#d92e00" stroke="#d92e00" stroke-width="1" stroke-linejoin="round"/>
<path d="M207 198L214 198L212 206L207 210z" fill="#732100" stroke="#732100" stroke-width="1" stroke-linejoin="round"/>
</g>
<circle cx="228.8" cy="244" r="8.36" fill="url(#gb0)" opacity="0.85"/>
<circle cx="232" cy="222" r="6.6" fill="url(#gb0)" opacity="0.35"/>
<circle cx="220.2" cy="202" r="7.48" fill="url(#gd0)" opacity="1"/>
<circle cx="207.6" cy="245.5" r="5.72" fill="url(#gd0)" opacity="0.95"/>
<circle cx="218.7" cy="253.8" r="5.5" fill="url(#gd0)" opacity="0.8"/>
<circle cx="236.3" cy="254.8" r="6.38" fill="url(#gd0)" opacity="1"/>
<circle cx="207.2" cy="226.3" r="4.84" fill="url(#gd0)" opacity="0.55"/>
<circle cx="208" cy="262" r="4.84" fill="url(#gd0)" opacity="0.5"/>
<circle cx="227" cy="262" r="5.5" fill="url(#gd0)" opacity="0.3"/>
</g>
<g clip-path="url(#cff1)">
<rect x="242.38" y="198" width="35.08" height="71" fill="#871f00"/>
<g filter="url(#bl2)">
<path d="M262 200L277.5 200L277.5 214L266 212z" fill="#9e1f00" stroke="#9e1f00" stroke-width="1" stroke-linejoin="round"/>
<path d="M243 222L250 230L246 238L243 240z" fill="#991f00" stroke="#991f00" stroke-width="1" stroke-linejoin="round"/>
<path d="M268 216L278 214L278 240L270 238z" fill="#5c1f00" stroke="#5c1f00" stroke-width="1" stroke-linejoin="round"/>
</g>
<g filter="url(#bl3)">
<path d="M243 216L256 214L262 226L258 240L266 250L262 258L243 262z" fill="#b21f00" stroke="#b21f00" stroke-width="1" stroke-linejoin="round"/>
<path d="M270 242L279 242L279 268L268 268z" fill="#6b1f00" stroke="#6b1f00" stroke-width="1" stroke-linejoin="round"/>
</g>
<g filter="url(#bl1)">
<path d="M244 241.6L249 242L254 244.6L258.5 248.6L263 250.6L268 249.4" fill="none" stroke="#fc2800" stroke-width="3.8" stroke-linecap="round" stroke-linejoin="round"/>
<path d="M247.2 249.5L247.8 253L246.3 259.5" fill="none" stroke="#fc2800" stroke-width="5" stroke-linecap="round" stroke-linejoin="round"/>
</g>
<circle cx="247.5" cy="210.2" r="5.5" fill="url(#gb0)" opacity="0.8"/>
<ellipse cx="256.8" cy="226" rx="6.16" ry="13.2" fill="url(#gb0)" opacity="1" transform="rotate(14 256.8 226)"/>
<ellipse cx="256.5" cy="228" rx="9.9" ry="16.5" fill="url(#gb0)" opacity="0.35" transform="rotate(14 256.5 228)"/>
<circle cx="254" cy="247" r="12.1" fill="url(#gb0)" opacity="0.35"/>
<circle cx="253.5" cy="200.8" r="7.48" fill="url(#gd0)" opacity="1"/>
<circle cx="269.7" cy="254.8" r="5.94" fill="url(#gd0)" opacity="0.95"/>
<circle cx="276.5" cy="236.4" r="5.72" fill="url(#gd0)" opacity="0.55"/>
<circle cx="243" cy="263" r="4.4" fill="url(#gd0)" opacity="0.3"/>
<circle cx="262" cy="263" r="5.28" fill="url(#gd0)" opacity="0.3"/>
</g>
<g clip-path="url(#cff2)">
<rect x="277.45" y="198" width="35.08" height="71" fill="#1c1400"/>
<g filter="url(#bl2)">
<path d="M277 198L283.5 198L282 230L284 268L277 268z" fill="#5c1400" stroke="#5c1400" stroke-width="1" stroke-linejoin="round"/>
</g>
<g filter="url(#bl1)">
<path d="M278 216.2L287.1 222.3" fill="none" stroke="#9e1400" stroke-width="2.9" stroke-linecap="round" stroke-linejoin="round"/>
<path d="M279 232.4L287.5 236.8" fill="none" stroke="#9e1400" stroke-width="2.9" stroke-linecap="round" stroke-linejoin="round"/>
<path d="M288.1 243.5L295.2 250.2L309.4 250.6" fill="none" stroke="#9e1400" stroke-width="2.9" stroke-linecap="round" stroke-linejoin="round"/>
<path d="M279 246.5L286.1 256.7" fill="none" stroke="#9e1400" stroke-width="2.9" stroke-linecap="round" stroke-linejoin="round"/>
<path d="M288 236L288.1 243.5" fill="none" stroke="#9e1400" stroke-width="2.9" stroke-linecap="round" stroke-linejoin="round"/>
<path d="M283.5 212.2L287 204.5L293.2 202.1L299 204L305.3 208.1" fill="none" stroke="#6b1400" stroke-width="2.8" stroke-linecap="round" stroke-linejoin="round"/>
<path d="M295.2 250.2L297 262L296 268" fill="none" stroke="#6b1400" stroke-width="2.6" stroke-linecap="round" stroke-linejoin="round"/>
<path d="M286.1 256.7L286 267" fill="none" stroke="#6b1400" stroke-width="2.6" stroke-linecap="round" stroke-linejoin="round"/>
<path d="M309.4 250.6L309.8 262" fill="none" stroke="#6b1400" stroke-width="2.6" stroke-linecap="round" stroke-linejoin="round"/>
<path d="M291.4 218.6L289.6 226L288 235" fill="none" stroke="#fc1f00" stroke-width="3.7" stroke-linecap="round" stroke-linejoin="round"/>
</g>
<circle cx="283.5" cy="212.2" r="4.18" fill="url(#gb0)" opacity="0.85"/>
<circle cx="288.1" cy="243.5" r="4.4" fill="url(#gb0)" opacity="1"/>
<circle cx="295.2" cy="250.2" r="4.62" fill="url(#gb0)" opacity="1"/>
<circle cx="286.1" cy="256.7" r="4.18" fill="url(#gb0)" opacity="0.8"/>
<circle cx="288.2" cy="233.5" r="5.06" fill="url(#gb0)" opacity="0.95"/>
<circle cx="291" cy="220.5" r="3.96" fill="url(#gb0)" opacity="0.75"/>
<circle cx="310.4" cy="250.6" r="3.52" fill="url(#gb0)" opacity="0.55"/>
<circle cx="309.4" cy="257.5" r="3.3" fill="url(#gb0)" opacity="0.4"/>
<circle cx="293.2" cy="202.1" r="3.52" fill="url(#gb0)" opacity="0.4"/>
<circle cx="301" cy="205" r="3.52" fill="url(#gb0)" opacity="0.35"/>
<circle cx="301.3" cy="216.2" r="4.4" fill="url(#gt0)" opacity="0.25"/>
<circle cx="305.3" cy="230.4" r="4.4" fill="url(#gt0)" opacity="0.22"/>
<circle cx="303.3" cy="240.5" r="3.96" fill="url(#gt0)" opacity="0.2"/>
<circle cx="300" cy="260" r="4.4" fill="url(#gt0)" opacity="0.22"/>
</g>
<g clip-path="url(#cff3)">
<rect x="312.53" y="198" width="37.08" height="71" fill="#6e5400"/>
<g filter="url(#bl3)">
<path d="M323.5 204L325.5 230L324 262" fill="none" stroke="#b25400" stroke-width="6" stroke-linecap="round" stroke-linejoin="round"/>
<path d="M340 198L349 198L349 268L338 268z" fill="#545400" stroke="#545400" stroke-width="1" stroke-linejoin="round"/>
</g>
</g>
</g></g>
<rect x="206.3" y="197" width="142.1" height="71.3" fill="none" stroke="#f46d6f" stroke-width="1.9"/>
<path d="M237.6 224.3L233.4 224.3" stroke="#f4846e" stroke-width="1.3" fill="none"/><path d="M230.3 224.3L233.9 222.4L233.9 226.2z" fill="#f4846e"/>
<path d="M269.9 226.3L265.7 226.3" stroke="#f5a066" stroke-width="1.3" fill="none"/><path d="M262.6 226.3L266.2 224.4L266.2 228.2z" fill="#f5a066"/>
<path d="M264.8 241.3L261.03 243.66" stroke="#f03b3b" stroke-width="1.3" fill="none"/><path d="M258.4 245.3L260.45 241.78L262.46 245z" fill="#f03b3b"/>
<path d="M299.75 226L296.55 223.9" stroke="#f5a066" stroke-width="1.3" fill="none"/><path d="M293.96 222.2L298.01 222.59L295.93 225.76z" fill="#f5a066"/>
<path d="M299.2 229.3L295.59 230.51" stroke="#f5a066" stroke-width="1.3" fill="none"/><path d="M292.65 231.5L295.46 228.55L296.67 232.15z" fill="#f5a066"/>
<path d="M297.6 239.7L293.84 241.35" stroke="#f03b3b" stroke-width="1.3" fill="none"/><path d="M291 242.6L293.53 239.41L295.06 242.89z" fill="#f03b3b"/>
<path d="M299.75 243.3L298.17 245.79" stroke="#f03b3b" stroke-width="1.3" fill="none"/><path d="M296.5 248.4L296.83 244.34L300.04 246.39z" fill="#f03b3b"/>
<path d="M333.1 226.6L330.64 223.52" stroke="#f5a066" stroke-width="1.3" fill="none"/><path d="M328.7 221.1L332.43 222.72L329.47 225.1z" fill="#f5a066"/>
<path d="M332.9 230.4L330.06 232.11" stroke="#f5a066" stroke-width="1.3" fill="none"/><path d="M327.4 233.7L329.51 230.22L331.46 233.48z" fill="#f5a066"/>
<path d="M333.1 240.8L328 240.99" stroke="#f03b3b" stroke-width="1.3" fill="none"/><path d="M324.9 241.1L328.43 239.07L328.57 242.87z" fill="#f03b3b"/>
<path d="M335.5 242.2L333.62 245.26" stroke="#f03b3b" stroke-width="1.3" fill="none"/><path d="M332 247.9L332.26 243.84L335.5 245.83z" fill="#f03b3b"/>
<g filter="url(#fg)"><g clip-path="url(#cfg)">
<g clip-path="url(#cfg0)">
<rect x="205.3" y="274" width="37.08" height="71" fill="#a80d00"/>
<g filter="url(#bl2)">
<path d="M225.2 290.2L246 288.2L246 326.6L227.2 327.6L222.2 322.5L224.2 312.4L218.6 304.3L220.4 296.3z" fill="#e80f00" stroke="#e80f00" stroke-width="1" stroke-linejoin="round"/>
<path d="M207 274L214 274L212 282L207 286z" fill="#730d00" stroke="#730d00" stroke-width="1" stroke-linejoin="round"/>
</g>
<circle cx="228.8" cy="320" r="8.36" fill="url(#gb1)" opacity="0.85"/>
<circle cx="232" cy="298" r="6.6" fill="url(#gb1)" opacity="0.35"/>
<circle cx="220.2" cy="278" r="7.48" fill="url(#gd1)" opacity="1"/>
<circle cx="207.6" cy="321.5" r="5.72" fill="url(#gd1)" opacity="0.95"/>
<circle cx="218.7" cy="329.8" r="5.5" fill="url(#gd1)" opacity="0.8"/>
<circle cx="236.3" cy="330.8" r="6.38" fill="url(#gd1)" opacity="1"/>
<circle cx="207.2" cy="302.3" r="4.84" fill="url(#gd1)" opacity="0.55"/>
<circle cx="208" cy="338" r="4.84" fill="url(#gd1)" opacity="0.5"/>
<circle cx="227" cy="338" r="5.5" fill="url(#gd1)" opacity="0.3"/>
</g>
<g clip-path="url(#cfg1)">
<rect x="242.38" y="274" width="35.08" height="71" fill="#871700"/>
<g filter="url(#bl2)">
<path d="M262 276L277.5 276L277.5 290L266 288z" fill="#9e1700" stroke="#9e1700" stroke-width="1" stroke-linejoin="round"/>
<path d="M243 298L250 306L246 314L243 316z" fill="#991700" stroke="#991700" stroke-width="1" stroke-linejoin="round"/>
<path d="M268 292L278 290L278 316L270 314z" fill="#5c1700" stroke="#5c1700" stroke-width="1" stroke-linejoin="round"/>
</g>
<g filter="url(#bl3)">
<path d="M243 292L256 290L262 302L258 316L266 326L262 334L243 338z" fill="#b21700" stroke="#b21700" stroke-width="1" stroke-linejoin="round"/>
<path d="M270 318L279 318L279 344L268 344z" fill="#6b1700" stroke="#6b1700" stroke-width="1" stroke-linejoin="round"/>
</g>
<g filter="url(#bl1)">
<path d="M244 317.6L249 318L254 320.6L258.5 324.6L263 326.6L268 325.4" fill="none" stroke="#fc1e00" stroke-width="3.8" stroke-linecap="round" stroke-linejoin="round"/>
<path d="M247.2 325.5L247.8 329L246.3 335.5" fill="none" stroke="#fc1e00" stroke-width="5" stroke-linecap="round" stroke-linejoin="round"/>
</g>
<circle cx="247.5" cy="286.2" r="5.5" fill="url(#gb1)" opacity="0.8"/>
<ellipse cx="256.8" cy="302" rx="6.16" ry="13.2" fill="url(#gb1)" opacity="1" transform="rotate(14 256.8 302)"/>
<ellipse cx="256.5" cy="304" rx="9.9" ry="16.5" fill="url(#gb1)" opacity="0.35" transform="rotate(14 256.5 304)"/>
<circle cx="254" cy="323" r="12.1" fill="url(#gb1)" opacity="0.35"/>
<circle cx="253.5" cy="276.8" r="7.48" fill="url(#gd1)" opacity="1"/>
<circle cx="269.7" cy="330.8" r="5.94" fill="url(#gd1)" opacity="0.95"/>
<circle cx="276.5" cy="312.4" r="5.72" fill="url(#gd1)" opacity="0.55"/>
<circle cx="243" cy="339" r="4.4" fill="url(#gd1)" opacity="0.3"/>
<circle cx="262" cy="339" r="5.28" fill="url(#gd1)" opacity="0.3"/>
</g>
<g clip-path="url(#cfg2)">
<rect x="277.45" y="274" width="35.08" height="71" fill="#1c2100"/>
<g filter="url(#bl2)">
<path d="M277 274L283.5 274L282 306L284 344L277 344z" fill="#5c2100" stroke="#5c2100" stroke-width="1" stroke-linejoin="round"/>
</g>
<g filter="url(#bl1)">
<path d="M278 292.2L287.1 298.3" fill="none" stroke="#9e2100" stroke-width="2.9" stroke-linecap="round" stroke-linejoin="round"/>
<path d="M279 308.4L287.5 312.8" fill="none" stroke="#9e2100" stroke-width="2.9" stroke-linecap="round" stroke-linejoin="round"/>
<path d="M288.1 319.5L295.2 326.2L309.4 326.6" fill="none" stroke="#9e2100" stroke-width="2.9" stroke-linecap="round" stroke-linejoin="round"/>
<path d="M279 322.5L286.1 332.7" fill="none" stroke="#9e2100" stroke-width="2.9" stroke-linecap="round" stroke-linejoin="round"/>
<path d="M288 312L288.1 319.5" fill="none" stroke="#9e2100" stroke-width="2.9" stroke-linecap="round" stroke-linejoin="round"/>
<path d="M283.5 288.2L287 280.5L293.2 278.1L299 280L305.3 284.1" fill="none" stroke="#6b2100" stroke-width="2.8" stroke-linecap="round" stroke-linejoin="round"/>
<path d="M295.2 326.2L297 338L296 344" fill="none" stroke="#6b2100" stroke-width="2.6" stroke-linecap="round" stroke-linejoin="round"/>
<path d="M286.1 332.7L286 343" fill="none" stroke="#6b2100" stroke-width="2.6" stroke-linecap="round" stroke-linejoin="round"/>
<path d="M309.4 326.6L309.8 338" fill="none" stroke="#6b2100" stroke-width="2.6" stroke-linecap="round" stroke-linejoin="round"/>
<path d="M291.4 294.6L289.6 302L288 311" fill="none" stroke="#fc3200" stroke-width="3.7" stroke-linecap="round" stroke-linejoin="round"/>
</g>
<circle cx="283.5" cy="288.2" r="4.18" fill="url(#gb1)" opacity="0.85"/>
<circle cx="288.1" cy="319.5" r="4.4" fill="url(#gb1)" opacity="1"/>
<circle cx="295.2" cy="326.2" r="4.62" fill="url(#gb1)" opacity="1"/>
<circle cx="286.1" cy="332.7" r="4.18" fill="url(#gb1)" opacity="0.8"/>
<circle cx="288.2" cy="309.5" r="5.06" fill="url(#gb1)" opacity="0.95"/>
<circle cx="291" cy="296.5" r="3.96" fill="url(#gb1)" opacity="0.75"/>
<circle cx="310.4" cy="326.6" r="3.52" fill="url(#gb1)" opacity="0.55"/>
<circle cx="309.4" cy="333.5" r="3.3" fill="url(#gb1)" opacity="0.4"/>
<circle cx="293.2" cy="278.1" r="3.52" fill="url(#gb1)" opacity="0.4"/>
<circle cx="301" cy="281" r="3.52" fill="url(#gb1)" opacity="0.35"/>
<circle cx="301.3" cy="292.2" r="4.4" fill="url(#gt1)" opacity="0.25"/>
<circle cx="305.3" cy="306.4" r="4.4" fill="url(#gt1)" opacity="0.22"/>
<circle cx="303.3" cy="316.5" r="3.96" fill="url(#gt1)" opacity="0.2"/>
<circle cx="300" cy="336" r="4.4" fill="url(#gt1)" opacity="0.22"/>
</g>
<g clip-path="url(#cfg3)">
<rect x="312.53" y="274" width="37.08" height="71" fill="#1c2100"/>
<g filter="url(#bl2)">
<path d="M312 320L320 322L318 344L312 344z" fill="#4c2100" stroke="#4c2100" stroke-width="1" stroke-linejoin="round"/>
</g>
<g filter="url(#bl1)">
<path d="M314.4 322.5L323.1 318.1" fill="none" stroke="#992100" stroke-width="2.9" stroke-linecap="round" stroke-linejoin="round"/>
<path d="M323.1 318.1L332.6 325.6L343.7 326.6" fill="none" stroke="#992100" stroke-width="2.9" stroke-linecap="round" stroke-linejoin="round"/>
<path d="M335.7 280.1L343.7 284.1" fill="none" stroke="#992100" stroke-width="2.9" stroke-linecap="round" stroke-linejoin="round"/>
<path d="M315.4 284.1L319.1 287.2L326.6 294.2" fill="none" stroke="#992100" stroke-width="2.9" stroke-linecap="round" stroke-linejoin="round"/>
<path d="M324.5 309.4L323.1 318.1" fill="none" stroke="#992100" stroke-width="2.9" stroke-linecap="round" stroke-linejoin="round"/>
<path d="M318 276L319.1 287.2" fill="none" stroke="#992100" stroke-width="2.9" stroke-linecap="round" stroke-linejoin="round"/>
<path d="M323.5 331L323 343" fill="none" stroke="#662100" stroke-width="2.6" stroke-linecap="round" stroke-linejoin="round"/>
<path d="M332.6 325.6L334 343" fill="none" stroke="#662100" stroke-width="2.6" stroke-linecap="round" stroke-linejoin="round"/>
<path d="M345.8 328.6L346 343" fill="none" stroke="#662100" stroke-width="2.6" stroke-linecap="round" stroke-linejoin="round"/>
<path d="M326.6 294.2L325.4 302L324.5 310" fill="none" stroke="#b82100" stroke-width="2.6" stroke-linecap="round" stroke-linejoin="round"/>
</g>
<circle cx="319.1" cy="287.2" r="3.96" fill="url(#gb1)" opacity="0.8"/>
<circle cx="324.5" cy="309.4" r="3.74" fill="url(#gb1)" opacity="0.85"/>
<circle cx="323.1" cy="318.1" r="4.62" fill="url(#gb1)" opacity="0.95"/>
<circle cx="332.6" cy="325.6" r="3.96" fill="url(#gb1)" opacity="0.8"/>
<circle cx="323.5" cy="331" r="3.74" fill="url(#gb1)" opacity="0.6"/>
<circle cx="345.8" cy="328.6" r="3.96" fill="url(#gb1)" opacity="0.75"/>
<circle cx="326.8" cy="293.5" r="3.3" fill="url(#gb1)" opacity="0.5"/>
<circle cx="336" cy="302" r="4.4" fill="url(#gt1)" opacity="0.22"/>
<circle cx="340" cy="314" r="4.4" fill="url(#gt1)" opacity="0.2"/>
<circle cx="331" cy="338" r="4.4" fill="url(#gt1)" opacity="0.2"/>
<circle cx="338" cy="282" r="4.4" fill="url(#gt1)" opacity="0.3"/>
</g>
</g></g>
<rect x="206.3" y="273" width="142.1" height="71.2" fill="none" stroke="#1a8dba" stroke-width="1.9"/>
<path d="M237.6 300.3L233.4 300.3" stroke="#f4846e" stroke-width="1.3" fill="none"/><path d="M230.3 300.3L233.9 298.4L233.9 302.2z" fill="#f4846e"/>
<path d="M269.9 302.3L265.7 302.3" stroke="#f5a066" stroke-width="1.3" fill="none"/><path d="M262.6 302.3L266.2 300.4L266.2 304.2z" fill="#f5a066"/>
<path d="M264.8 317.3L261.03 319.66" stroke="#f03b3b" stroke-width="1.3" fill="none"/><path d="M258.4 321.3L260.45 317.78L262.46 321z" fill="#f03b3b"/>
<path d="M299.75 302L296.55 299.9" stroke="#f5a066" stroke-width="1.3" fill="none"/><path d="M293.96 298.2L298.01 298.59L295.93 301.76z" fill="#f5a066"/>
<path d="M299.2 305.3L295.59 306.51" stroke="#f5a066" stroke-width="1.3" fill="none"/><path d="M292.65 307.5L295.46 304.55L296.67 308.15z" fill="#f5a066"/>
<path d="M297.6 315.7L293.84 317.35" stroke="#f03b3b" stroke-width="1.3" fill="none"/><path d="M291 318.6L293.53 315.41L295.06 318.89z" fill="#f03b3b"/>
<path d="M299.75 319.3L298.17 321.79" stroke="#f03b3b" stroke-width="1.3" fill="none"/><path d="M296.5 324.4L296.83 320.34L300.04 322.39z" fill="#f03b3b"/>
<path d="M333.1 302.6L330.64 299.52" stroke="#f5a066" stroke-width="1.3" fill="none"/><path d="M328.7 297.1L332.43 298.72L329.47 301.1z" fill="#f5a066"/>
<path d="M332.9 306.4L330.06 308.11" stroke="#f5a066" stroke-width="1.3" fill="none"/><path d="M327.4 309.7L329.51 306.22L331.46 309.48z" fill="#f5a066"/>
<path d="M333.1 316.8L328 316.99" stroke="#f03b3b" stroke-width="1.3" fill="none"/><path d="M324.9 317.1L328.43 315.07L328.57 318.87z" fill="#f03b3b"/>
<path d="M335.5 318.2L333.62 321.26" stroke="#f03b3b" stroke-width="1.3" fill="none"/><path d="M332 323.9L332.26 319.84L335.5 321.83z" fill="#f03b3b"/>
<text x="214.3" y="266.6" font-size="7.3" textLength="25.3" lengthAdjust="spacingAndGlyphs" fill="#fff">740 nm</text>
<text x="249.4" y="266.6" font-size="7.3" textLength="25.5" lengthAdjust="spacingAndGlyphs" fill="#fff">760 nm</text>
<text x="284.5" y="266.6" font-size="7.3" textLength="25.5" lengthAdjust="spacingAndGlyphs" fill="#fff">790 nm</text>
<text x="321.1" y="266.6" font-size="7.3" textLength="26" lengthAdjust="spacingAndGlyphs" fill="#fff">850 nm</text>
<text x="214.3" y="342.3" font-size="7.3" textLength="25.3" lengthAdjust="spacingAndGlyphs" fill="#fff">740 nm</text>
<text x="249.4" y="342.3" font-size="7.3" textLength="25.5" lengthAdjust="spacingAndGlyphs" fill="#fff">760 nm</text>
<text x="284.5" y="342.3" font-size="7.3" textLength="25.5" lengthAdjust="spacingAndGlyphs" fill="#fff">790 nm</text>
<text x="321.1" y="342.3" font-size="7.3" textLength="26" lengthAdjust="spacingAndGlyphs" fill="#fff">850 nm</text>
<text x="269.2" y="207.5" font-size="8.2" textLength="16.2" lengthAdjust="spacingAndGlyphs" fill="#fff">Raw</text>
<text x="258.4" y="283.2" font-size="8.2" textLength="37.8" lengthAdjust="spacingAndGlyphs" fill="#fff">Proposed</text>
<rect x="337.4" y="202.6" width="5.5" height="2" fill="#fff"/>
<text x="331.6" y="212.2" font-size="6.8" textLength="14.6" lengthAdjust="spacingAndGlyphs" fill="#fff">1 µm</text>
<rect x="353.4" y="199.3" width="7.1" height="141.7" fill="url(#cbf)" stroke="#444" stroke-width="0.5"/>
<path d="M360.5 199.4h1.4M360.5 340.9h1.4" stroke="#555" stroke-width="0.7" fill="none"/>
<text x="363.3" y="201.6" font-size="7.3">1</text>
<text x="364" y="343.6" font-size="7.3" textLength="4.3" lengthAdjust="spacingAndGlyphs">0</text>
<text font-size="8.6" text-anchor="middle" textLength="85" lengthAdjust="spacingAndGlyphs" transform="translate(366.9 270.2) rotate(90)">Normalized PL counts</text></g>
<text x="-0.3" y="10.6" font-size="12" textLength="7.2" lengthAdjust="spacingAndGlyphs" font-weight="bold" fill="#000" stroke="#000" stroke-width="0.35">a</text>
<text x="0.5" y="95.4" font-size="12" textLength="7.6" lengthAdjust="spacingAndGlyphs" font-weight="bold" fill="#000" stroke="#000" stroke-width="0.35">b</text>
<text x="260" y="10.6" font-size="12" textLength="7.2" lengthAdjust="spacingAndGlyphs" font-weight="bold" fill="#000" stroke="#000" stroke-width="0.35">c</text>
<text x="467" y="9.9" font-size="12" textLength="7" lengthAdjust="spacingAndGlyphs" font-weight="bold" fill="#000" stroke="#000" stroke-width="0.35">d</text>
<text x="0.4" y="199.5" font-size="12" textLength="6.8" lengthAdjust="spacingAndGlyphs" font-weight="bold" fill="#000" stroke="#000" stroke-width="0.35">e</text>
<text x="196" y="198.8" font-size="12" textLength="4.8" lengthAdjust="spacingAndGlyphs" font-weight="bold" fill="#000" stroke="#000" stroke-width="0.35">f</text>
<text x="196" y="277.9" font-size="12" textLength="7.2" lengthAdjust="spacingAndGlyphs" font-weight="bold" fill="#000" stroke="#000" stroke-width="0.35">g</text>
<text x="379.5" y="198.8" font-size="12" textLength="6.6" lengthAdjust="spacingAndGlyphs" font-weight="bold" fill="#000" stroke="#000" stroke-width="0.35">h</text>
<text x="549.6" y="199" font-size="12" textLength="3.8" lengthAdjust="spacingAndGlyphs" font-weight="bold" fill="#000" stroke="#000" stroke-width="0.35">i</text>
</svg>
</body></html>
